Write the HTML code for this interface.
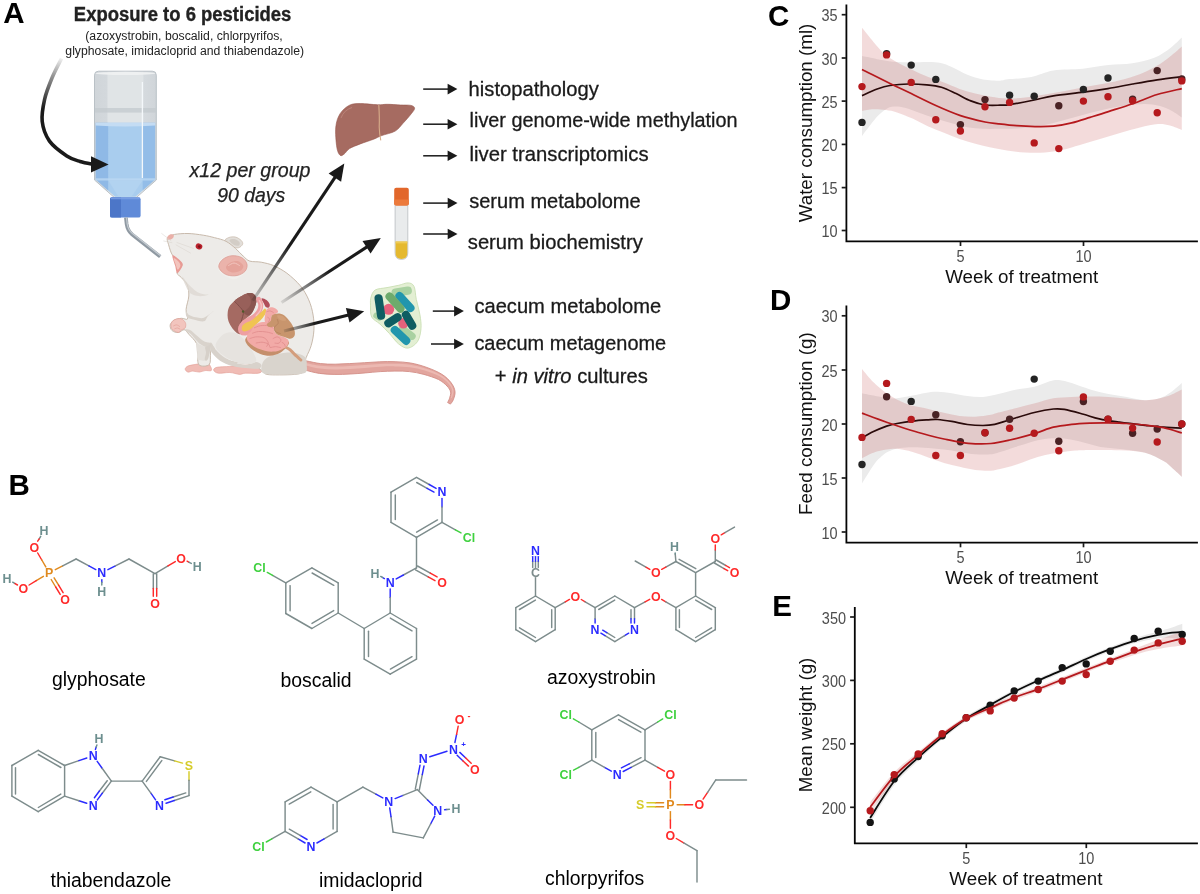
<!DOCTYPE html>
<html lang="en"><head><meta charset="utf-8"><title>Figure 1 - pesticide mixture exposure study design</title>
<style>
html,body{margin:0;padding:0;background:#fff;}
body{width:1200px;height:894px;overflow:hidden;font-family:"Liberation Sans",sans-serif;}
svg{display:block;}
text{font-family:"Liberation Sans",sans-serif;}
.tk{font-size:16px;fill:#4d4d4d;}
.ax{font-size:18.8px;fill:#111;}
.pl{font-size:29.5px;font-weight:bold;fill:#000;}
.lb{font-size:19.4px;fill:#000;}
.at{font-size:12.4px;font-weight:bold;text-anchor:middle;}
.rt{font-size:20.5px;fill:#1a1a1a;stroke:#1a1a1a;stroke-width:0.3px;}
</style></head><body>
<svg width="1200" height="894" viewBox="0 0 1200 894">
<rect width="1200" height="894" fill="#fff"/>
<!-- panel A -->
<defs>
<linearGradient id="gca" gradientUnits="userSpaceOnUse" x1="62" y1="58" x2="48" y2="110"><stop offset="0" stop-color="#1a1a1a" stop-opacity="0.05"/><stop offset="0.35" stop-color="#1a1a1a" stop-opacity="0.45"/><stop offset="1" stop-color="#1a1a1a"/></linearGradient>
<linearGradient id="ga1" gradientUnits="userSpaceOnUse" x1="251" y1="303" x2="290" y2="245"><stop offset="0" stop-color="#1a1a1a" stop-opacity="0.15"/><stop offset="1" stop-color="#1a1a1a"/></linearGradient>
<linearGradient id="ga2" gradientUnits="userSpaceOnUse" x1="281" y1="303" x2="330" y2="272"><stop offset="0" stop-color="#1a1a1a" stop-opacity="0.1"/><stop offset="1" stop-color="#1a1a1a"/></linearGradient>
<linearGradient id="ga3" gradientUnits="userSpaceOnUse" x1="283" y1="331" x2="315" y2="324"><stop offset="0" stop-color="#1a1a1a" stop-opacity="0.1"/><stop offset="1" stop-color="#1a1a1a"/></linearGradient>
<linearGradient id="gwat" x1="0" x2="1" y1="0" y2="0"><stop offset="0" stop-color="#8fb9e6"/><stop offset="0.2" stop-color="#8fb9e6"/><stop offset="0.22" stop-color="#a9cdee"/><stop offset="0.78" stop-color="#a9cdee"/><stop offset="0.8" stop-color="#93bde8"/><stop offset="1" stop-color="#93bde8"/></linearGradient>
<linearGradient id="ggl" x1="0" x2="1" y1="0" y2="0"><stop offset="0" stop-color="#d0d5d9"/><stop offset="0.2" stop-color="#d3d8dc"/><stop offset="0.22" stop-color="#e0e4e6"/><stop offset="0.78" stop-color="#e0e4e6"/><stop offset="0.8" stop-color="#d5dade"/><stop offset="1" stop-color="#d0d5d9"/></linearGradient>
</defs>
<text x="182.6" y="21.4" text-anchor="middle" font-size="19.5" font-weight="bold" fill="#222" stroke="#222" stroke-width="0.35" textLength="217.5" lengthAdjust="spacingAndGlyphs">Exposure to 6 pesticides</text>
<text x="184" y="40" text-anchor="middle" font-size="12" fill="#222" textLength="197.5" lengthAdjust="spacingAndGlyphs">(azoxystrobin, boscalid, chlorpyrifos,</text>
<text x="184.7" y="54.8" text-anchor="middle" font-size="12" fill="#222" textLength="238.7" lengthAdjust="spacingAndGlyphs">glyphosate, imidacloprid and thiabendazole)</text>
<text x="3.3" y="23.3" class="pl">A</text>
<text x="250" y="176.5" text-anchor="middle" font-size="20" font-style="italic" fill="#222" stroke="#222" stroke-width="0.25" textLength="121" lengthAdjust="spacingAndGlyphs">x12 per group</text>
<text x="251.3" y="201.6" text-anchor="middle" font-size="20" font-style="italic" fill="#222" stroke="#222" stroke-width="0.25" textLength="68" lengthAdjust="spacingAndGlyphs">90 days</text>
<g>
<path d="M98.5,71.2 H152.3 Q156.3,71.2 156.3,75.2 V180 L136,197.8 H114.6 L94.5,180 V75.2 Q94.5,71.2 98.5,71.2 Z" fill="url(#ggl)" stroke="#b4bcc2" stroke-width="0.9"/>
<ellipse cx="125.4" cy="73.4" rx="30" ry="1.6" fill="#eef0f1"/>
<rect x="95" y="108" width="60.8" height="4.6" fill="#c3c9ce" opacity="0.75"/>
<path d="M95.6,122.8 H155.2 V179.6 L135.5,196.8 H115.1 L95.6,179.6 Z" fill="url(#gwat)"/>
<path d="M95.6,122.8 H155.2 V125.4 Q125,127.6 95.6,125.4 Z" fill="#c4dcf3"/>
<path d="M95.6,178.2 H155.2 V180.6 H95.6 Z" fill="#bcd8f2" opacity="0.8"/>
<path d="M108.3,180.5 L118.5,196.8 H131.5 L142.5,180.5 Z" fill="#b4d3f0" opacity="0.85"/>
<path d="M142.4,82 V178" stroke="#f4f8fb" stroke-width="1.3" fill="none"/>
<path d="M110,199.2 Q110,197.2 112,197.2 H138.6 Q140.6,197.2 140.6,199.2 V215.4 Q140.6,217.6 138.4,217.6 H112.2 Q110,217.6 110,215.4 Z" fill="#5f8ad8"/>
<path d="M110,199.2 Q110,197.2 112,197.2 H121 V217.6 H112.2 Q110,217.6 110,215.4 Z" fill="#4c76c8"/>
<path d="M111,197.3 H139.6 V199.3 H111 Z" fill="#7ea3e6" opacity="0.8"/>
<path d="M125.9,217.6 L126.6,224 Q127.6,230.6 132,234.4 L160.2,256.6" fill="none" stroke="#8f99a2" stroke-width="3.7"/>
<path d="M126.5,217.6 L127.2,224 Q128.2,230 132.5,233.6 L160.6,255.8" fill="none" stroke="#c2c9cf" stroke-width="1.3"/>
</g>
<path d="M61.5,58.5 C59.9,61.8 54.8,71.2 52.0,78.0 C49.2,84.8 46.2,92.1 44.6,99.3 C43.0,106.5 41.4,114.4 42.2,121.4 C43.0,128.4 45.4,135.3 49.5,141.1 C53.6,146.8 61.7,152.5 66.8,155.9 C71.9,159.3 75.6,160.1 80.0,161.5 C84.4,162.9 90.8,163.8 93.0,164.2" fill="none" stroke="url(#gca)" stroke-width="3.6"/>
<path d="M108.6,164.5 L91,156.2 L91,172.6 Z" fill="#1a1a1a"/>
<path d="M298.9,368.4 C299.9,368.6 301.4,369.2 304.8,370.0 C308.2,370.9 314.3,372.6 319.4,373.4 C324.4,374.1 329.8,374.3 334.9,374.4 C340.1,374.6 345.2,374.3 350.3,374.0 C355.3,373.8 360.4,373.3 365.4,372.9 C370.4,372.5 375.3,371.9 380.2,371.6 C385.2,371.3 390.0,371.1 394.9,371.1 C399.8,371.1 404.6,371.0 409.4,371.6 C414.2,372.1 419.0,373.1 423.9,374.4 C428.7,375.8 434.6,377.6 438.5,379.5 C442.3,381.5 445.0,383.9 447.0,386.0 C449.0,388.1 450.2,390.0 450.6,392.1 C451.0,394.3 449.9,396.9 449.4,398.7 C448.9,400.4 447.9,401.9 447.6,402.5 L450.4,404.1 C450.9,403.4 452.4,402.0 453.2,399.9 C454.0,397.8 455.4,394.3 455.0,391.5 C454.7,388.6 453.2,385.5 451.0,382.6 C448.7,379.7 445.7,376.6 441.5,374.1 C437.4,371.5 431.3,369.0 426.1,367.2 C421.0,365.3 415.8,364.0 410.6,363.0 C405.4,362.1 400.2,361.9 395.1,361.7 C390.0,361.5 384.8,361.6 379.8,361.8 C374.7,362.0 369.6,362.4 364.6,362.7 C359.6,363.0 354.7,363.3 349.7,363.6 C344.8,363.8 339.9,364.1 335.1,364.2 C330.2,364.2 325.3,364.2 320.6,363.6 C315.9,363.1 310.1,361.6 306.8,361.0 C303.6,360.3 302.1,359.9 301.1,359.6 Z" fill="#e2a59e" stroke="#d28d86" stroke-width="0.9"/>
<path d="M305.5,365.5 C307.9,366.0 314.9,367.9 319.8,368.6 C324.7,369.2 329.9,369.4 335.0,369.4 C340.0,369.5 345.1,369.2 350.1,369.0 C355.1,368.7 360.1,368.3 365.1,367.9 C370.1,367.6 375.1,367.0 380.1,366.8 C385.0,366.5 390.0,366.3 395.0,366.4 C399.9,366.5 404.9,366.5 409.8,367.2 C414.8,367.9 419.7,369.0 424.7,370.5 C429.6,372.0 435.6,374.1 439.6,376.3 C443.5,378.4 446.3,381.1 448.4,383.5 C450.5,385.9 451.8,388.2 452.2,390.6 C452.6,393.0 451.0,396.7 450.8,397.9 L451.8,398.1 C452.1,396.8 453.8,393.0 453.4,390.4 C453.0,387.8 451.7,385.1 449.6,382.5 C447.4,379.9 444.5,377.1 440.4,374.7 C436.4,372.4 430.4,370.1 425.3,368.5 C420.3,366.8 415.2,365.6 410.2,364.8 C405.1,364.0 400.1,363.9 395.0,363.8 C390.0,363.7 385.0,363.8 379.9,364.0 C374.9,364.2 369.9,364.7 364.9,365.1 C359.9,365.4 354.9,365.8 349.9,366.0 C344.9,366.3 340.0,366.6 335.0,366.6 C330.1,366.5 325.0,366.4 320.2,365.8 C315.4,365.2 308.4,363.4 306.1,362.9 Z" fill="#ecb9b2"/>
<path d="M224.5,241.3 C224.0,239.8 227.1,238.2 228.9,237.5 C230.7,236.8 233.5,236.6 235.6,237.1 C237.6,237.6 240.1,239.3 241.3,240.5 C242.4,241.7 243.1,243.1 242.6,244.3 C242.1,245.5 240.2,247.4 238.4,247.8 C236.6,248.1 234.1,247.7 231.7,246.6 C229.4,245.5 225.0,242.8 224.5,241.3Z" fill="#e2ded9" stroke="#c8baac" stroke-width="0.7"/>
<path d="M229.5,240.2 C229.6,239.2 233.0,238.7 234.6,239.0 C236.2,239.3 238.6,241.0 239.4,242.1 C240.1,243.1 239.9,245.0 239.0,245.5 C238.0,245.9 235.2,245.6 233.7,244.7 C232.1,243.8 229.3,241.1 229.5,240.2Z" fill="#d3cdc6"/>
<path d="M213.7,370.2 C213.4,369.2 214.2,368.0 216.9,367.3 C219.6,366.7 225.2,366.7 229.8,366.4 C234.5,366.0 240.6,365.3 245.1,365.2 C249.5,365.2 253.7,365.2 256.5,366.0 C259.3,366.8 261.5,369.0 261.8,370.2 C262.1,371.4 261.2,372.7 258.4,373.2 C255.6,373.7 248.2,373.0 245.1,373.2 C241.9,373.4 241.9,374.5 239.4,374.4 C236.8,374.2 233.3,372.7 229.8,372.5 C226.4,372.3 221.1,373.6 218.4,373.2 C215.7,372.9 213.9,371.2 213.7,370.2Z" fill="#f0bcb5" stroke="#e09a92" stroke-width="0.6"/>
<path d="M185.2,369.2 C185.2,368.2 186.0,366.9 188.0,366.0 C190.1,365.2 194.4,364.6 197.5,364.1 C200.7,363.6 204.9,362.6 207.0,363.0 C209.2,363.3 209.8,365.1 210.5,366.4 C211.2,367.7 212.1,369.9 211.2,370.6 C210.3,371.3 207.1,370.3 205.1,370.6 C203.2,370.8 201.5,372.0 199.4,372.1 C197.4,372.2 194.7,371.1 192.8,371.1 C190.9,371.1 189.3,372.4 188.0,372.1 C186.8,371.8 185.2,370.3 185.2,369.2Z" fill="#f0bcb5" stroke="#e09a92" stroke-width="0.6"/>
<path d="M167.5,237.5 C168.5,235.8 171.3,235.1 174.7,234.4 C178.1,233.8 183.3,233.4 188.0,233.5 C192.8,233.6 198.8,234.5 203.2,235.2 C207.7,235.9 210.8,236.7 214.6,237.7 C218.4,238.7 222.6,239.5 226.0,241.3 C229.5,243.1 232.7,246.0 235.6,248.5 C238.4,251.0 240.8,254.0 243.2,256.1 C245.5,258.2 246.8,260.1 249.8,261.1 C252.8,262.1 257.3,261.4 261.2,262.2 C265.2,263.0 269.3,263.8 273.6,265.6 C277.9,267.5 282.4,269.9 286.9,273.2 C291.3,276.6 296.5,281.2 300.2,285.6 C303.8,290.0 306.6,294.9 308.7,299.8 C310.9,304.8 312.3,310.0 313.1,315.1 C314.0,320.1 314.2,325.2 313.9,330.3 C313.6,335.3 312.5,341.0 311.2,345.5 C309.9,350.0 307.6,353.8 306.3,357.3 C304.9,360.7 303.9,363.9 303.2,366.4 C302.5,368.9 303.5,371.1 302.1,372.5 C300.6,373.8 298.3,374.0 294.5,374.4 C290.7,374.8 283.9,374.9 279.3,374.9 C274.7,374.9 269.7,375.0 266.9,374.4 C264.1,373.8 264.9,372.9 262.5,371.3 C260.2,369.7 258.1,366.6 252.7,364.9 C247.2,363.2 235.7,362.9 229.8,361.1 C224.0,359.3 220.3,356.5 217.5,354.0 C214.6,351.6 213.9,346.6 212.7,346.4 C211.6,346.3 211.0,350.1 210.5,353.1 C209.9,356.1 211.2,362.5 209.3,364.5 C207.4,366.5 201.0,366.8 199.0,364.9 C197.1,363.0 198.0,356.7 197.5,353.1 C197.1,349.5 197.8,346.3 196.4,343.2 C195.0,340.1 191.0,336.7 189.0,334.4 C186.9,332.2 186.0,330.0 184.2,329.7 C182.5,329.4 180.5,332.4 178.5,332.5 C176.5,332.7 173.4,331.9 172.1,330.6 C170.7,329.4 169.8,326.7 170.2,324.9 C170.5,323.2 172.5,321.1 174.3,320.0 C176.2,318.9 179.2,318.5 181.4,318.3 C183.6,318.1 186.9,320.3 187.6,318.9 C188.4,317.4 185.9,313.2 186.1,309.4 C186.3,305.6 188.6,300.1 188.8,296.0 C189.0,292.0 188.5,288.1 187.3,285.0 C186.0,281.9 183.1,279.7 181.4,277.6 C179.7,275.5 176.9,274.9 177.0,272.7 C177.1,270.4 182.6,266.9 181.9,264.1 C181.2,261.3 175.0,259.0 172.8,255.7 C170.6,252.5 169.5,247.8 168.6,244.7 C167.7,241.7 166.5,239.2 167.5,237.5Z" fill="#edebe8" stroke="#c8baac" stroke-width="1.0"/>
<path d="M263.3,373.3 C260.3,371.7 261.4,367.2 262.0,364.7 C262.6,362.1 264.1,359.8 266.7,358.0 C269.2,356.2 272.9,354.9 277.3,354.0 C281.8,353.1 288.8,352.2 293.3,352.7 C297.9,353.1 302.4,354.7 304.7,356.7 C306.9,358.7 306.8,361.9 306.7,364.7 C306.6,367.4 308.4,371.7 304.0,373.3 C299.6,375.0 286.8,374.5 280.0,374.5 C273.2,374.5 266.3,375.0 263.3,373.3Z" fill="#d9d4cd"/>
<path d="M211.3,342.7 C212.4,343.3 213.7,347.4 216.0,350.0 C218.3,352.6 221.8,355.8 225.3,358.0 C228.9,360.2 233.6,362.2 237.3,363.3 C241.1,364.4 244.9,364.9 248.0,364.7 C251.1,364.4 253.8,362.0 256.0,362.0 C258.2,362.0 260.9,363.6 261.3,364.7 C261.8,365.8 261.3,368.1 258.7,368.7 C256.0,369.2 249.8,368.4 245.3,368.0 C240.9,367.6 236.2,367.2 232.0,366.0 C227.8,364.8 223.3,362.9 220.0,360.7 C216.7,358.4 213.8,355.1 212.0,352.7 C210.2,350.2 209.4,347.7 209.3,346.0 C209.2,344.3 210.2,342.0 211.3,342.7Z" fill="#d8d2cb"/>
<path d="M216.0,343.3 C217.1,340.7 220.9,335.8 224.0,334.0 C227.1,332.2 231.1,331.6 234.7,332.7 C238.2,333.8 242.2,337.3 245.3,340.7 C248.4,344.0 251.6,349.2 253.3,352.7 C255.1,356.1 256.9,359.4 256.0,361.3 C255.1,363.2 251.1,363.8 248.0,364.0 C244.9,364.2 241.0,363.8 237.3,362.7 C233.7,361.6 229.3,359.4 226.0,357.3 C222.7,355.2 219.0,352.3 217.3,350.0 C215.7,347.7 214.9,346.0 216.0,343.3Z" fill="#e6e3df"/>
<path d="M196.3,342.7 C196.8,341.6 198.4,344.0 200.0,344.7 C201.6,345.3 204.2,346.8 206.0,346.7 C207.8,346.6 210.3,343.0 210.9,344.0 C211.5,345.0 210.2,350.0 209.6,352.7 C209.0,355.3 209.3,358.8 207.3,360.0 C205.4,361.2 199.7,361.0 198.0,359.6 C196.3,358.2 197.4,354.2 197.1,351.3 C196.8,348.5 195.8,343.8 196.3,342.7Z" fill="#e4e0db"/>
<path d="M205.3,346.7 C206.2,345.2 210.2,343.0 210.9,344.0 C211.6,345.0 210.2,350.0 209.6,352.7 C209.0,355.3 208.2,358.8 207.3,360.0 C206.5,361.2 204.9,360.8 204.7,359.6 C204.4,358.4 205.9,354.8 206.0,352.7 C206.1,350.5 204.5,348.1 205.3,346.7Z" fill="#d6d0c9"/>
<path d="M186.0,310.0 C186.3,309.7 187.0,313.4 188.7,314.7 C190.3,315.9 193.4,316.8 196.0,317.3 C198.6,317.8 201.1,318.7 204.0,317.7 C206.9,316.7 212.7,311.6 213.3,311.3 C214.0,311.0 209.6,314.3 208.0,316.0 C206.4,317.7 206.4,320.7 204.0,321.3 C201.6,321.9 196.2,320.4 193.3,319.6 C190.4,318.8 187.9,318.3 186.7,316.7 C185.4,315.1 185.7,310.3 186.0,310.0Z" fill="#d9d3cc"/>
<path d="M184.7,330.0 C184.8,330.7 188.7,332.2 190.7,334.0 C192.7,335.8 195.1,339.0 196.7,340.7 C198.2,342.3 198.4,343.0 200.0,344.0 C201.6,345.0 204.2,346.8 206.0,346.7 C207.8,346.6 211.0,344.2 210.7,343.3 C210.3,342.4 206.2,342.6 204.0,341.3 C201.8,340.1 199.7,337.9 197.3,336.0 C195.0,334.1 192.1,331.0 190.0,330.0 C187.9,329.0 184.6,329.3 184.7,330.0Z" fill="#d9d3cc"/>
<path d="M182.3,277.0 C182.3,275.9 185.5,281.2 188.0,283.7 C190.6,286.2 194.4,290.4 197.5,292.2 C200.7,294.0 204.5,294.4 207.0,294.5 C209.6,294.7 213.4,292.9 212.7,293.2 C212.1,293.4 206.4,295.7 203.2,296.0 C200.1,296.4 196.3,296.0 193.7,295.1 C191.2,294.1 189.9,293.4 188.0,290.3 C186.1,287.3 182.3,278.1 182.3,277.0Z" fill="#ddd8d2" opacity="0.8"/>
<path d="M170.9,324.9 C171.1,323.6 171.5,322.0 172.7,320.9 C173.8,319.9 176.3,318.9 178.0,318.7 C179.7,318.4 181.4,318.8 182.7,319.6 C183.9,320.4 185.2,321.9 185.6,323.3 C186.0,324.7 185.8,326.9 185.1,328.0 C184.4,329.1 182.4,329.3 181.3,330.0 C180.3,330.7 179.8,332.2 178.7,332.4 C177.6,332.6 175.8,331.7 174.7,331.1 C173.5,330.4 172.4,329.7 171.7,328.7 C171.1,327.6 170.8,326.2 170.9,324.9Z" fill="#f2c5be" stroke="#e09a92" stroke-width="0.6"/>
<path d="M173.3,326.0 C173.9,325.8 175.6,324.8 176.7,324.9 C177.8,325.0 179.4,326.4 180.0,326.7" fill="none" stroke="#e09a92" stroke-width="0.6"/>
<path d="M174.4,328.9 C174.9,328.8 176.6,327.9 177.6,328.0 C178.6,328.1 179.8,329.1 180.3,329.3" fill="none" stroke="#e09a92" stroke-width="0.6"/>
<path d="M172.4,255.4 C173.0,254.3 176.8,257.5 178.5,259.0 C180.2,260.4 182.4,262.3 182.7,264.1 C183.0,265.9 181.4,268.4 180.4,269.8 C179.5,271.3 177.9,273.5 177.0,272.9 C176.1,272.2 175.9,268.5 175.1,265.6 C174.3,262.7 171.9,256.5 172.4,255.4Z" fill="#e89a94"/>
<path d="M173.8,258.0 C174.2,257.5 177.4,260.2 178.5,261.4 C179.6,262.7 180.5,264.2 180.4,265.6 C180.3,267.0 178.5,269.9 177.8,269.8 C177.0,269.7 176.5,266.8 175.9,264.9 C175.2,262.9 173.3,258.6 173.8,258.0Z" fill="#f3c4bd"/>
<path d="M167.1,237.5 C167.3,236.6 168.9,234.8 170.0,234.4 C171.1,234.1 173.4,234.5 173.8,235.2 C174.2,235.9 173.3,237.9 172.4,238.6 C171.6,239.4 169.5,240.0 168.6,239.8 C167.7,239.6 166.9,238.4 167.1,237.5Z" fill="#eab0a8"/>
<path d="M171.3,240.9L161.4,233.3" stroke="#d8d2cc" stroke-width="0.5"/>
<path d="M172.4,242.8L163.3,240.9" stroke="#d8d2cc" stroke-width="0.5"/>
<path d="M176.6,242.4L193.7,248.5" stroke="#d8d2cc" stroke-width="0.5"/>
<path d="M175.7,244.7L190.9,253.3" stroke="#d8d2cc" stroke-width="0.5"/>
<ellipse cx="199.0" cy="246.4" rx="3.4" ry="2.9" fill="#b9222c" transform="rotate(20 199.0 246.4)"/>
<circle cx="199.3" cy="246.6" r="1.4" fill="#7e1019"/>
<path d="M217.7,265.6 C217.9,263.4 219.2,260.6 221.5,258.8 C223.8,257.0 227.9,255.4 231.4,255.0 C234.8,254.6 239.3,255.0 242.0,256.5 C244.8,258.0 247.2,261.2 247.9,263.7 C248.6,266.3 247.6,269.5 246.2,271.7 C244.8,273.9 241.4,275.8 239.4,277.0 C237.3,278.3 235.7,279.3 233.7,279.3 C231.6,279.3 229.3,278.2 227.0,277.0 C224.7,275.8 221.5,274.0 220.0,272.1 C218.4,270.2 217.4,267.8 217.7,265.6Z" fill="#f1efec"/>
<path d="M218.8,265.6 C219.1,263.7 220.8,260.8 223.0,259.2 C225.2,257.5 228.6,256.0 231.7,255.7 C234.9,255.5 239.1,256.1 241.6,257.5 C244.2,258.8 246.4,261.8 247.0,264.1 C247.5,266.4 246.7,269.4 245.1,271.3 C243.4,273.2 240.0,274.9 237.1,275.5 C234.2,276.1 230.2,275.9 227.6,275.1 C224.9,274.4 222.6,272.5 221.1,271.0 C219.6,269.4 218.5,267.6 218.8,265.6Z" fill="#ebb3ab" stroke="#d9958c" stroke-width="0.7"/>
<path d="M226.0,266.8 C226.5,265.3 228.8,263.2 230.8,262.2 C232.8,261.3 235.8,260.5 237.8,261.1 C239.9,261.6 242.6,264.1 243.2,265.6 C243.7,267.1 242.8,269.0 241.3,270.2 C239.7,271.3 236.2,272.3 234.0,272.5 C231.9,272.6 229.7,271.9 228.3,271.0 C227.0,270.0 225.6,268.2 226.0,266.8Z" fill="#e5a39a"/>
<path d="M228.3,265.6 C229.3,265.2 232.1,263.0 234.0,263.0 C235.9,263.0 238.8,265.2 239.7,265.6" fill="none" stroke="#f3c6bf" stroke-width="1"/>
<path d="M245.5,338.7 C244.7,340.2 245.7,342.2 246.8,344.0 C248.0,345.8 250.0,347.8 252.2,349.4 C254.4,351.0 257.3,352.8 260.3,353.9 C263.2,354.9 266.8,355.8 270.1,355.7 C273.4,355.5 277.2,354.3 279.9,353.0 C282.6,351.6 284.7,349.4 286.2,347.6 C287.7,345.8 289.5,343.7 288.9,342.2 C288.3,340.8 286.6,339.9 282.6,338.7 C278.6,337.5 269.9,335.7 264.7,335.1 C259.5,334.5 254.5,334.5 251.3,335.1 C248.1,335.7 246.2,337.2 245.5,338.7Z" fill="#c58f6c"/>
<path d="M284.8,346.7 C285.8,347.3 288.8,348.8 290.7,350.3 C292.5,351.8 294.3,354.1 296.0,355.7 C297.7,357.3 300.1,359.2 300.9,360.0" fill="none" stroke="#d39d7c" stroke-width="3" stroke-linecap="round"/>
<path d="M227.6,314.5 C227.7,312.2 227.8,309.6 228.9,307.4 C230.1,305.1 232.4,302.9 234.3,301.1 C236.2,299.3 238.5,297.9 240.6,296.6 C242.7,295.4 245.0,294.1 246.8,293.5 C248.6,292.9 249.9,292.8 251.3,293.1 C252.7,293.3 254.2,294.2 255.1,295.3 C255.9,296.4 256.4,298.1 256.5,299.8 C256.6,301.4 256.2,303.3 255.6,305.1 C255.0,307.0 254.1,309.2 253.1,310.9 C252.1,312.7 251.0,313.9 249.5,315.4 C248.1,316.9 245.8,318.5 244.3,319.9 C242.9,321.2 241.6,322.1 240.8,323.5 C239.9,324.8 239.3,326.2 239.2,327.9 C239.2,329.6 240.8,332.8 240.6,333.7 C240.3,334.7 239.1,334.4 237.7,333.5 C236.4,332.6 234.1,330.4 232.5,328.4 C231.0,326.3 229.3,323.5 228.5,321.2 C227.7,318.9 227.5,316.8 227.6,314.5Z" fill="#a56a62"/>
<path d="M234.8,301.1 C235.0,299.5 238.6,297.9 240.6,296.6 C242.6,295.4 245.2,293.4 246.8,293.7 C248.5,294.0 249.7,296.7 250.4,298.4 C251.2,300.2 251.9,302.4 251.3,304.2 C250.7,306.1 248.1,308.3 246.8,309.6 C245.5,310.9 244.7,312.4 243.4,311.8 C242.2,311.2 240.7,307.8 239.2,306.0 C237.8,304.2 234.5,302.7 234.8,301.1Z" fill="#98605a"/>
<path d="M246.8,293.5 C247.1,292.8 249.9,292.8 251.3,293.1 C252.7,293.3 254.2,294.2 255.1,295.3 C255.9,296.4 256.4,298.1 256.5,299.8 C256.6,301.4 256.2,303.3 255.6,305.1 C255.0,307.0 254.1,309.2 253.1,310.9 C252.1,312.7 250.8,314.8 249.5,315.4 C248.2,316.0 246.4,315.1 245.5,314.5 C244.6,313.9 243.7,313.0 244.2,311.8 C244.6,310.7 247.3,309.3 248.4,307.8 C249.6,306.3 250.6,304.6 250.9,302.9 C251.1,301.2 250.6,299.1 250.0,297.5 C249.3,296.0 246.6,294.2 246.8,293.5Z" fill="#8a5650"/>
<path d="M234.3,301.3 C235.1,302.1 237.7,304.5 239.2,306.3 C240.7,308.0 242.8,309.9 243.3,311.8 C243.7,313.8 242.7,316.1 242.2,318.1 C241.7,320.1 240.7,322.7 240.4,323.6" fill="none" stroke="#7c4a45" stroke-width="0.9"/>
<circle cx="243.1" cy="311.5" r="1.2" fill="#4f5a2a"/>
<path d="M261.6,298.4 C262.1,297.9 265.2,299.1 266.5,300.0 C267.9,301.0 269.3,303.0 269.7,304.2 C270.1,305.5 269.5,307.1 268.8,307.5 C268.2,308.0 266.7,307.8 265.8,307.0 C264.9,306.2 264.4,304.3 263.6,302.9 C262.9,301.5 261.1,298.9 261.6,298.4Z" fill="#b04c59"/>
<path d="M258.6,299.3 C259.0,300.1 260.5,302.4 260.7,304.2 C260.9,306.0 260.6,308.2 259.8,310.0 C259.0,311.9 257.5,313.8 255.8,315.4 C254.1,317.0 251.5,318.2 249.5,319.4 C247.5,320.7 245.2,321.7 243.7,323.0 C242.2,324.4 241.1,326.0 240.8,327.5 C240.4,329.0 240.6,331.1 241.5,332.0 C242.3,332.9 244.4,333.1 245.9,332.9 C247.5,332.6 249.4,331.4 250.9,330.6 C252.3,329.8 253.8,328.4 254.4,327.9" fill="none" stroke="#ee9fa2" stroke-width="5" stroke-linecap="round"/>
<path d="M259.4,300.7 C259.7,301.4 261.2,303.5 261.3,305.1 C261.5,306.8 261.1,308.7 260.3,310.5 C259.4,312.3 256.9,315.0 256.2,315.9" fill="none" stroke="#f6c0c0" stroke-width="1.4" stroke-linecap="round"/>
<path d="M265.0,308.4 C265.7,308.5 266.7,310.3 266.3,311.8 C266.0,313.4 264.1,316.0 262.8,317.7 C261.4,319.5 259.8,321.0 258.3,322.4 C256.8,323.8 255.2,325.1 253.8,326.3 C252.4,327.5 251.5,328.7 250.0,329.5 C248.4,330.4 245.7,331.6 244.3,331.5 C243.0,331.5 242.0,330.3 241.7,329.2 C241.5,328.1 242.1,326.2 242.9,325.1 C243.7,323.9 245.2,323.2 246.7,322.4 C248.1,321.6 250.1,321.3 251.8,320.2 C253.6,319.1 255.5,317.2 257.2,315.8 C258.9,314.3 260.6,312.7 261.9,311.5 C263.2,310.3 264.2,308.4 265.0,308.4Z" fill="#f0c452"/>
<path d="M266.5,309.6 C267.3,308.4 268.6,307.6 270.1,307.4 C271.6,307.2 274.1,307.7 275.5,308.4 C276.8,309.2 278.3,310.8 278.1,311.8 C278.0,312.8 275.7,313.8 274.6,314.5 C273.4,315.3 271.8,315.3 271.4,316.3 C271.1,317.3 272.5,319.4 272.3,320.8 C272.1,322.1 271.1,323.7 270.1,324.4 C269.1,325.0 267.4,325.4 266.5,324.8 C265.6,324.2 264.9,322.5 264.7,320.8 C264.5,319.1 264.9,316.4 265.2,314.5 C265.5,312.7 265.7,310.8 266.5,309.6Z" fill="#f2aaa7"/>
<path d="M253.5,327.0 C254.7,325.7 255.7,324.3 257.6,323.5 C259.4,322.6 262.5,322.1 264.7,322.1 C267.0,322.1 269.5,322.6 271.0,323.5 C272.5,324.3 273.1,325.7 273.7,327.0 C274.3,328.4 273.8,330.2 274.6,331.5 C275.3,332.9 276.5,334.1 278.1,335.1 C279.8,336.1 282.7,336.4 284.4,337.3 C286.1,338.2 288.0,339.0 288.4,340.5 C288.9,341.9 288.2,344.3 287.1,345.8 C286.0,347.3 284.0,348.4 281.7,349.4 C279.5,350.4 276.5,351.4 273.7,351.6 C270.8,351.9 267.7,351.4 264.7,350.7 C261.7,350.1 258.3,348.9 255.8,347.6 C253.2,346.3 251.0,344.6 249.5,343.1 C248.0,341.6 247.1,340.2 246.8,338.7 C246.5,337.2 247.1,335.4 247.7,334.2 C248.4,333.0 249.9,332.7 250.9,331.5 C251.8,330.3 252.4,328.4 253.5,327.0Z" fill="#f2aaa7"/>
<path d="M254.0,327.9 C255.0,327.6 257.9,326.1 260.3,325.7 C262.6,325.3 266.2,325.3 268.3,325.7 C270.4,326.1 272.0,327.6 272.8,327.9" fill="none" stroke="#e08b8b" stroke-width="0.8"/>
<path d="M252.2,333.3 C253.2,333.0 256.1,331.7 258.5,331.5 C260.8,331.3 264.1,331.6 266.5,332.0 C268.9,332.3 271.7,333.4 272.8,333.7" fill="none" stroke="#e08b8b" stroke-width="0.8"/>
<path d="M249.5,338.7 C250.6,338.4 253.5,337.1 255.8,336.9 C258.0,336.7 261.1,336.9 262.9,337.3 C264.7,337.8 265.9,339.2 266.5,339.6" fill="none" stroke="#e08b8b" stroke-width="0.8"/>
<path d="M255.8,343.1 C256.8,343.0 260.0,342.1 262.0,342.2 C264.1,342.4 267.0,343.1 268.3,344.0 C269.6,344.9 269.8,347.0 270.1,347.6" fill="none" stroke="#e08b8b" stroke-width="0.8"/>
<path d="M272.8,338.7 C273.5,338.4 275.9,336.7 277.2,336.9 C278.6,337.0 280.5,338.5 280.8,339.6 C281.1,340.6 280.1,342.5 279.0,343.1 C278.0,343.7 275.3,343.1 274.6,343.1" fill="none" stroke="#e08b8b" stroke-width="0.8"/>
<path d="M270.1,347.6 C271.0,347.5 273.7,346.7 275.5,346.7 C277.2,346.7 279.9,347.5 280.8,347.6" fill="none" stroke="#e08b8b" stroke-width="0.8"/>
<path d="M266.5,311.8 C267.1,311.7 268.9,310.8 270.1,310.9 C271.3,311.1 273.1,312.4 273.7,312.7" fill="none" stroke="#e08b8b" stroke-width="0.8"/>
<path d="M267.4,317.2 C267.8,317.5 269.5,318.1 269.6,319.0 C269.8,319.9 268.5,322.0 268.3,322.6" fill="none" stroke="#e08b8b" stroke-width="0.8"/>
<path d="M266.5,339.6 C266.8,340.2 268.3,341.9 268.3,343.1 C268.3,344.3 266.8,346.1 266.5,346.7" fill="none" stroke="#e08b8b" stroke-width="0.8"/>
<path d="M281.7,342.2 C282.2,342.5 283.8,343.3 284.4,344.0 C285.0,344.8 285.1,346.3 285.3,346.7" fill="none" stroke="#e08b8b" stroke-width="0.8"/>
<path d="M271.9,315.4 C273.1,314.2 276.1,313.4 278.1,313.4 C280.2,313.4 282.3,313.9 284.4,315.4 C286.5,316.9 289.0,320.2 290.7,322.6 C292.3,325.0 293.8,327.5 294.4,329.7 C295.0,332.0 295.2,334.5 294.4,336.0 C293.7,337.5 291.6,338.7 289.9,338.8 C288.3,339.0 286.4,337.7 284.4,337.1 C282.4,336.4 279.7,336.0 278.1,335.1 C276.5,334.2 275.5,332.9 274.7,331.5 C274.0,330.2 274.7,327.8 273.8,327.0 C273.0,326.3 270.6,327.5 269.4,327.0 C268.2,326.6 266.5,325.4 266.7,324.4 C266.9,323.3 269.9,322.3 270.8,320.8 C271.7,319.3 270.7,316.6 271.9,315.4Z" fill="#c8956d"/>
<path d="M277.2,319.0 C277.4,319.7 278.6,322.1 278.1,323.5 C277.7,324.8 275.0,325.7 274.6,327.0 C274.1,328.4 274.4,330.4 275.5,331.5 C276.5,332.6 279.9,333.4 280.8,333.7" fill="none" stroke="#b5825f" stroke-width="0.9"/>
<path d="M277.2,315.4 C277.8,314.9 281.1,315.1 282.6,315.9 C284.1,316.6 286.2,319.1 286.2,319.9 C286.2,320.7 283.8,320.9 282.6,320.8 C281.4,320.6 279.9,319.9 279.0,319.0 C278.1,318.1 276.6,315.9 277.2,315.4Z" fill="#d4a47e" opacity="0.7"/>
<path d="M252.7,300.7L336.0,175.9" stroke="url(#ga1)" stroke-width="3.1" fill="none"/><path d="M344.3,163.4L341.1,181.7L328.6,173.4Z" fill="#1a1a1a"/>
<path d="M281.5,302.5L368.2,246.1" stroke="url(#ga2)" stroke-width="3.1" fill="none"/><path d="M380.8,237.9L370.6,253.5L362.5,240.9Z" fill="#1a1a1a"/>
<path d="M284.0,331.0L349.6,314.8" stroke="url(#ga3)" stroke-width="3.1" fill="none"/><path d="M364.2,311.2L349.5,322.6L345.9,308.0Z" fill="#1a1a1a"/>
<path d="M340.1,155.3 C338.9,154.2 337.5,151.9 336.8,147.2 C336.1,142.5 335.2,132.7 335.8,127.1 C336.4,121.5 337.8,117.3 340.1,113.7 C342.4,110.1 346.1,106.9 349.5,105.2 C352.9,103.5 355.6,103.7 360.3,103.6 C365.0,103.5 373.2,104.7 377.7,104.8 C382.2,104.9 383.3,104.3 387.1,104.3 C390.9,104.3 396.5,104.8 400.5,105.0 C404.5,105.2 408.6,104.9 411.0,105.4 C413.4,106.0 414.6,106.9 414.6,108.3 C414.7,109.7 413.2,111.2 411.3,113.7 C409.4,116.2 405.9,120.2 403.2,123.1 C400.5,126.0 398.8,129.0 395.2,131.1 C391.6,133.2 385.3,134.2 381.7,135.6 C378.1,136.9 377.3,137.8 373.7,139.2 C370.1,140.6 364.3,142.3 360.3,143.9 C356.3,145.5 352.2,146.9 349.5,148.6 C346.8,150.3 345.8,152.9 344.2,154.0 C342.6,155.1 341.3,156.4 340.1,155.3Z" fill="#a66b61" stroke="#935248" stroke-width="0.6"/>
<path d="M378.8,105 Q379.6,118 379.2,127 Q379.4,134 380.8,140.3" fill="none" stroke="#d8ad8a" stroke-width="1.1"/>
<path d="M341,118 Q344,110 352,107.5" fill="none" stroke="#bb857b" stroke-width="0.9"/>
<path d="M395.1,203 H407.8 V253 Q407.8,259.4 401.45,259.4 Q395.1,259.4 395.1,253 Z" fill="#e9ebec" stroke="#b9bdc0" stroke-width="0.8"/>
<path d="M395.6,241.6 H407.3 V253 Q407.3,258.9 401.45,258.9 Q395.6,258.9 395.6,253 Z" fill="#e5b92f"/>
<path d="M395.6,241.6 H407.3 V243.4 H395.6 Z" fill="#efcb55"/>
<path d="M394.2,189.8 Q394.2,187.8 396.2,187.8 H406.8 Q408.8,187.8 408.8,189.8 V203.4 Q408.8,205.4 406.8,205.4 H396.2 Q394.2,205.4 394.2,203.4 Z" fill="#e2672b"/>
<path d="M394.2,199.5 H408.8 V203.4 Q408.8,205.4 406.8,205.4 H396.2 Q394.2,205.4 394.2,203.4 Z" fill="#ec7a3c"/>
<path d="M371.1,297.0 C371.9,294.5 372.6,291.6 375.2,290.0 C377.8,288.4 383.1,288.4 387.0,287.6 C390.9,286.8 395.2,286.1 398.7,285.3 C402.2,284.5 405.6,282.7 408.1,282.9 C410.7,283.1 412.6,283.6 414.0,286.4 C415.4,289.1 415.3,294.7 416.3,299.4 C417.3,304.1 419.1,309.7 419.9,314.6 C420.7,319.5 421.4,324.2 421.0,328.7 C420.6,333.2 419.6,338.4 417.5,341.6 C415.4,344.8 411.2,347.7 408.1,348.1 C405.0,348.5 401.8,346.4 398.7,344.0 C395.6,341.6 392.4,336.7 389.3,333.4 C386.2,330.1 382.8,326.7 379.9,324.0 C377.0,321.3 373.3,320.1 371.7,317.0 C370.1,313.9 370.6,308.5 370.5,305.2 C370.4,301.9 370.3,299.5 371.1,297.0Z" fill="#e3efd3" stroke="#c9dfb3" stroke-width="0.9"/>
<path d="M395.6,292.6L407.8,290.6" stroke="#a9d1a1" stroke-width="8.2" stroke-linecap="round"/>
<path d="M376.3,315.6L379.3,317.6" stroke="#a9d1a1" stroke-width="6.0" stroke-linecap="round"/>
<path d="M402.5,329.0L412.0,336.2" stroke="#a9d1a1" stroke-width="7.4" stroke-linecap="round"/>
<circle cx="388.7" cy="309.3" r="5.5" fill="#e4627c"/>
<circle cx="403.4" cy="323.2" r="5.2" fill="#e4627c"/>
<path d="M378.6,298.4L381.1,315.6" stroke="#0f5d62" stroke-width="8.2" stroke-linecap="round"/>
<path d="M405.9,314.8L412.2,325.6" stroke="#0f5d62" stroke-width="8.2" stroke-linecap="round"/>
<path d="M399.5,296.0L410.4,308.0" stroke="#2196ad" stroke-width="8.2" stroke-linecap="round"/>
<path d="M389.6,296.6L400.4,308.6" stroke="#6dab6c" stroke-width="8.2" stroke-linecap="round"/>
<path d="M388.4,323.2L397.6,317.2" stroke="#0f5d62" stroke-width="8.2" stroke-linecap="round"/>
<path d="M394.8,330.0L406.2,340.8" stroke="#2196ad" stroke-width="8.2" stroke-linecap="round"/>
<path d="M423.2,89.1H449.4" stroke="#1a1a1a" stroke-width="1.5"/><path d="M457.4,89.1L447.6,83.8L447.6,94.4Z" fill="#1a1a1a"/>
<path d="M423.2,124.2H449.4" stroke="#1a1a1a" stroke-width="1.5"/><path d="M457.4,124.2L447.6,118.9L447.6,129.5Z" fill="#1a1a1a"/>
<path d="M423.2,155.8H449.4" stroke="#1a1a1a" stroke-width="1.5"/><path d="M457.4,155.8L447.6,150.5L447.6,161.1Z" fill="#1a1a1a"/>
<path d="M423.2,203.1H449.5" stroke="#1a1a1a" stroke-width="1.5"/><path d="M457.5,203.1L447.7,197.8L447.7,208.4Z" fill="#1a1a1a"/>
<path d="M423.2,234.0H449.5" stroke="#1a1a1a" stroke-width="1.5"/><path d="M457.5,234.0L447.7,228.7L447.7,239.3Z" fill="#1a1a1a"/>
<path d="M432.8,311.1H455.9" stroke="#1a1a1a" stroke-width="1.5"/><path d="M463.9,311.1L454.1,305.8L454.1,316.4Z" fill="#1a1a1a"/>
<path d="M431.0,344.0H455.9" stroke="#1a1a1a" stroke-width="1.5"/><path d="M463.9,344.0L454.1,338.7L454.1,349.3Z" fill="#1a1a1a"/>
<text x="468.6" y="96.2" class="rt" textLength="130.2" lengthAdjust="spacingAndGlyphs">histopathology</text>
<text x="469.6" y="127.4" class="rt" textLength="268.0" lengthAdjust="spacingAndGlyphs">liver genome-wide methylation</text>
<text x="469.6" y="161.2" class="rt" textLength="179.0" lengthAdjust="spacingAndGlyphs">liver transcriptomics</text>
<text x="469.2" y="207.8" class="rt" textLength="171.5" lengthAdjust="spacingAndGlyphs">serum metabolome</text>
<text x="467.8" y="248.8" class="rt" textLength="175.0" lengthAdjust="spacingAndGlyphs">serum biochemistry</text>
<text x="474.4" y="313.4" class="rt" textLength="186.8" lengthAdjust="spacingAndGlyphs">caecum metabolome</text>
<text x="474.4" y="349.8" class="rt" textLength="191.8" lengthAdjust="spacingAndGlyphs">caecum metagenome</text>
<text x="494.8" y="382.6" class="rt" textLength="153" lengthAdjust="spacingAndGlyphs">+ <tspan font-style="italic">in vitro</tspan> cultures</text>
<!-- chem -->
<g fill="none" stroke-width="1.45" stroke-linecap="round">
<path d="M37.7,553.0L41.8,560.0" stroke="#ff2a2a"/><path d="M41.8,560.0L45.8,566.9" stroke="#e08a1e"/>
<path d="M43.4,576.3L36.3,580.6" stroke="#e08a1e"/><path d="M36.3,580.6L29.1,585.0" stroke="#ff2a2a"/>
<path d="M55.3,569.7L62.7,565.9" stroke="#e08a1e"/><path d="M62.7,565.9L76.1,559.0" stroke="#7d8c8c"/>
<path d="M76.1,559.0L88.9,565.9" stroke="#7d8c8c"/><path d="M88.9,565.9L95.8,569.6" stroke="#2b2bff"/>
<path d="M107.9,569.7L115.4,565.9" stroke="#2b2bff"/><path d="M115.4,565.9L129.0,559.0" stroke="#7d8c8c"/>
<path d="M129.0,559.0L155.0,573.7" stroke="#7d8c8c"/>
<path d="M155.0,573.7L168.0,565.9" stroke="#7d8c8c"/><path d="M168.0,565.9L175.3,561.6" stroke="#ff2a2a"/>
<path d="M51.2,579.5L55.7,587.0" stroke="#e08a1e"/><path d="M55.7,587.0L60.2,594.4" stroke="#ff2a2a"/>
<path d="M54.1,577.8L58.6,585.2" stroke="#e08a1e"/><path d="M58.6,585.2L63.1,592.7" stroke="#ff2a2a"/>
<path d="M153.3,573.7L153.3,588.4" stroke="#7d8c8c"/><path d="M153.3,588.4L153.3,596.2" stroke="#ff2a2a"/>
<path d="M156.7,573.7L156.7,588.4" stroke="#7d8c8c"/><path d="M156.7,588.4L156.7,596.2" stroke="#ff2a2a"/>
<path d="M40.7,536.3L39.2,538.9" stroke="#6d8f8f"/><path d="M39.2,538.9L37.7,541.2" stroke="#ff2a2a"/>
<path d="M12.7,582.2L15.1,583.6" stroke="#6d8f8f"/><path d="M15.1,583.6L17.5,585.0" stroke="#ff2a2a"/>
<path d="M101.8,579.6L101.8,582.2" stroke="#2b2bff"/><path d="M101.8,582.2L101.8,585.1" stroke="#6d8f8f"/>
<path d="M187.1,561.2L189.1,562.3" stroke="#ff2a2a"/><path d="M189.1,562.3L191.3,563.4" stroke="#6d8f8f"/>
</g>
<text x="44.0" y="535.1" class="at" fill="#6d8f8f">H</text>
<text x="34.3" y="551.6" class="at" fill="#ff2a2a">O</text>
<text x="49.2" y="577.2" class="at" fill="#e08a1e">P</text>
<text x="23.3" y="593.0" class="at" fill="#ff2a2a">O</text>
<text x="7.0" y="583.2" class="at" fill="#6d8f8f">H</text>
<text x="65.1" y="603.9" class="at" fill="#ff2a2a">O</text>
<text x="101.8" y="577.2" class="at" fill="#2b2bff">N</text>
<text x="101.8" y="596.2" class="at" fill="#6d8f8f">H</text>
<text x="155.0" y="607.5" class="at" fill="#ff2a2a">O</text>
<text x="181.1" y="562.6" class="at" fill="#ff2a2a">O</text>
<text x="197.2" y="571.0" class="at" fill="#6d8f8f">H</text>
<text x="52" y="685.7" class="lb">glyphosate</text>
<g fill="none" stroke-width="1.45" stroke-linecap="round">
<path d="M416.5,477.4L429.2,484.5" stroke="#7d8c8c"/><path d="M429.2,484.5L436.1,488.4" stroke="#2b2bff"/>
<path d="M416.7,482.5L427.1,488.3" stroke="#7d8c8c"/><path d="M427.1,488.3L434.0,492.1" stroke="#2b2bff"/>
<path d="M442.0,498.5L442.0,507.0" stroke="#2b2bff"/><path d="M442.0,507.0L442.0,522.3" stroke="#7d8c8c"/>
<path d="M442.0,522.3L416.5,537.3" stroke="#7d8c8c"/>
<path d="M437.5,519.9L416.6,532.2" stroke="#7d8c8c"/>
<path d="M416.5,537.3L391.0,522.3" stroke="#7d8c8c"/>
<path d="M391.0,522.3L391.0,492.2" stroke="#7d8c8c"/>
<path d="M395.3,519.6L395.3,494.9" stroke="#7d8c8c"/>
<path d="M391.0,492.2L416.5,477.4" stroke="#7d8c8c"/>
<path d="M442.0,522.3L455.4,529.8" stroke="#7d8c8c"/><path d="M455.4,529.8L461.0,532.9" stroke="#3fd13f"/>
<path d="M416.5,537.3L416.5,567.9" stroke="#7d8c8c"/>
<path d="M415.5,569.8L428.2,576.9" stroke="#7d8c8c"/><path d="M428.2,576.9L435.0,580.7" stroke="#ff2a2a"/>
<path d="M417.5,566.0L430.3,573.1" stroke="#7d8c8c"/><path d="M430.3,573.1L437.1,576.9" stroke="#ff2a2a"/>
<path d="M416.5,567.9L403.4,575.0" stroke="#7d8c8c"/><path d="M403.4,575.0L396.2,578.9" stroke="#2b2bff"/>
<path d="M384.4,578.6L382.6,577.5" stroke="#2b2bff"/><path d="M382.6,577.5L380.7,576.4" stroke="#6d8f8f"/>
<path d="M390.2,588.9L390.2,597.5" stroke="#2b2bff"/><path d="M390.2,597.5L390.2,613.0" stroke="#7d8c8c"/>
<path d="M390.2,613.0L416.5,628.5" stroke="#7d8c8c"/>
<path d="M390.3,618.1L412.0,630.9" stroke="#7d8c8c"/>
<path d="M416.5,628.5L416.5,659.1" stroke="#7d8c8c"/>
<path d="M416.5,659.1L390.2,674.2" stroke="#7d8c8c"/>
<path d="M412.0,656.7L390.4,669.1" stroke="#7d8c8c"/>
<path d="M390.2,674.2L364.2,659.1" stroke="#7d8c8c"/>
<path d="M364.2,659.1L364.2,628.5" stroke="#7d8c8c"/>
<path d="M368.5,656.4L368.5,631.2" stroke="#7d8c8c"/>
<path d="M364.2,628.5L390.2,613.0" stroke="#7d8c8c"/>
<path d="M364.2,628.5L338.2,613.0" stroke="#7d8c8c"/>
<path d="M338.2,613.0L338.2,582.9" stroke="#7d8c8c"/>
<path d="M338.2,582.9L311.9,567.9" stroke="#7d8c8c"/>
<path d="M333.8,585.3L312.1,573.0" stroke="#7d8c8c"/>
<path d="M311.9,567.9L285.8,582.9" stroke="#7d8c8c"/>
<path d="M285.8,582.9L285.8,613.5" stroke="#7d8c8c"/>
<path d="M290.1,585.6L290.1,610.8" stroke="#7d8c8c"/>
<path d="M285.8,613.5L311.9,628.5" stroke="#7d8c8c"/>
<path d="M311.9,628.5L338.2,613.0" stroke="#7d8c8c"/>
<path d="M312.0,623.4L333.7,610.6" stroke="#7d8c8c"/>
<path d="M285.8,582.9L272.6,575.4" stroke="#7d8c8c"/><path d="M272.6,575.4L267.3,572.4" stroke="#3fd13f"/>
</g>
<text x="442.0" y="496.1" class="at" fill="#2b2bff">N</text>
<text x="468.9" y="541.8" class="at" fill="#3fd13f">Cl</text>
<text x="442.0" y="586.6" class="at" fill="#ff2a2a">O</text>
<text x="390.2" y="586.6" class="at" fill="#2b2bff">N</text>
<text x="375.0" y="577.5" class="at" fill="#6d8f8f">H</text>
<text x="259.5" y="572.4" class="at" fill="#3fd13f">Cl</text>
<text x="280.5" y="687.2" class="lb">boscalid</text>
<g fill="none" stroke-width="1.45" stroke-linecap="round">
<path d="M535.5,596.0L555.2,607.6" stroke="#7d8c8c"/>
<path d="M555.2,607.6L555.2,629.7" stroke="#7d8c8c"/>
<path d="M551.7,609.8L551.7,627.5" stroke="#7d8c8c"/>
<path d="M555.2,629.7L535.5,641.6" stroke="#7d8c8c"/>
<path d="M535.5,641.6L515.8,629.7" stroke="#7d8c8c"/>
<path d="M535.5,637.5L519.5,627.8" stroke="#7d8c8c"/>
<path d="M515.8,629.7L515.8,607.6" stroke="#7d8c8c"/>
<path d="M515.8,607.6L535.5,596.0" stroke="#7d8c8c"/>
<path d="M519.4,609.5L535.4,600.1" stroke="#7d8c8c"/>
<path d="M535.5,596.0L535.5,577.6" stroke="#7d8c8c"/>
<path d="M535.5,567.6L535.5,561.3" stroke="#7d8c8c"/><path d="M535.5,561.3L535.5,556.6" stroke="#2b2bff"/>
<path d="M538.3,567.6L538.3,561.3" stroke="#7d8c8c"/><path d="M538.3,561.3L538.3,556.6" stroke="#2b2bff"/>
<path d="M532.7,567.6L532.7,561.3" stroke="#7d8c8c"/><path d="M532.7,561.3L532.7,556.6" stroke="#2b2bff"/>
<path d="M555.2,607.6L565.3,601.8" stroke="#7d8c8c"/><path d="M565.3,601.8L569.5,599.4" stroke="#ff2a2a"/>
<path d="M581.3,599.5L585.2,601.8" stroke="#ff2a2a"/><path d="M585.2,601.8L595.1,607.6" stroke="#7d8c8c"/>
<path d="M595.1,607.6L614.8,596.0" stroke="#7d8c8c"/>
<path d="M598.7,609.5L614.7,600.1" stroke="#7d8c8c"/>
<path d="M614.8,596.0L634.5,607.6" stroke="#7d8c8c"/>
<path d="M634.5,607.6L634.5,618.7" stroke="#7d8c8c"/><path d="M634.5,618.7L634.5,622.9" stroke="#2b2bff"/>
<path d="M631.0,609.8L631.0,618.7" stroke="#7d8c8c"/><path d="M631.0,618.7L631.0,622.9" stroke="#2b2bff"/>
<path d="M628.7,633.2L624.6,635.7" stroke="#2b2bff"/><path d="M624.6,635.7L614.8,641.6" stroke="#7d8c8c"/>
<path d="M614.8,641.6L605.0,635.7" stroke="#7d8c8c"/><path d="M605.0,635.7L600.9,633.2" stroke="#2b2bff"/>
<path d="M614.8,637.5L606.8,632.7" stroke="#7d8c8c"/><path d="M606.8,632.7L602.7,630.2" stroke="#2b2bff"/>
<path d="M595.1,622.9L595.1,618.7" stroke="#2b2bff"/><path d="M595.1,618.7L595.1,607.6" stroke="#7d8c8c"/>
<path d="M634.5,607.6L645.1,601.8" stroke="#7d8c8c"/><path d="M645.1,601.8L649.7,599.3" stroke="#ff2a2a"/>
<path d="M661.6,599.4L665.8,601.8" stroke="#ff2a2a"/><path d="M665.8,601.8L675.9,607.6" stroke="#7d8c8c"/>
<path d="M675.9,607.6L695.6,596.0" stroke="#7d8c8c"/>
<path d="M695.6,596.0L715.3,607.6" stroke="#7d8c8c"/>
<path d="M695.7,600.1L711.7,609.5" stroke="#7d8c8c"/>
<path d="M715.3,607.6L715.3,629.7" stroke="#7d8c8c"/>
<path d="M715.3,629.7L695.6,641.6" stroke="#7d8c8c"/>
<path d="M711.6,627.8L695.6,637.5" stroke="#7d8c8c"/>
<path d="M695.6,641.6L675.9,629.7" stroke="#7d8c8c"/>
<path d="M675.9,629.7L675.9,607.6" stroke="#7d8c8c"/>
<path d="M679.4,627.5L679.4,609.8" stroke="#7d8c8c"/>
<path d="M695.6,596.0L695.6,572.6" stroke="#7d8c8c"/>
<path d="M695.6,572.6L675.9,561.5" stroke="#7d8c8c"/>
<path d="M695.8,568.7L679.1,559.3" stroke="#7d8c8c"/>
<path d="M675.9,561.5L675.2,553.9" stroke="#7d8c8c"/><path d="M675.2,553.9L675.2,552.9" stroke="#6d8f8f"/>
<path d="M675.9,561.5L665.8,567.1" stroke="#7d8c8c"/><path d="M665.8,567.1L661.7,569.3" stroke="#ff2a2a"/>
<path d="M649.8,569.3L645.5,566.8" stroke="#ff2a2a"/><path d="M645.5,566.8L635.2,561.0" stroke="#7d8c8c"/>
<path d="M695.6,572.6L715.3,561.5" stroke="#7d8c8c"/>
<path d="M714.4,563.0L724.0,568.6" stroke="#7d8c8c"/><path d="M724.0,568.6L727.7,570.7" stroke="#ff2a2a"/>
<path d="M716.2,560.0L725.8,565.5" stroke="#7d8c8c"/><path d="M725.8,565.5L729.5,567.7" stroke="#ff2a2a"/>
<path d="M715.3,561.5L715.3,549.9" stroke="#7d8c8c"/><path d="M715.3,549.9L715.3,545.0" stroke="#ff2a2a"/>
<path d="M721.2,534.8L724.9,532.7" stroke="#ff2a2a"/><path d="M724.9,532.7L734.5,527.1" stroke="#7d8c8c"/>
</g>
<text x="535.5" y="577.1" class="at" fill="#7d8c8c">C</text>
<text x="535.5" y="554.5" class="at" fill="#2b2bff">N</text>
<text x="575.4" y="600.5" class="at" fill="#ff2a2a">O</text>
<text x="634.5" y="634.2" class="at" fill="#2b2bff">N</text>
<text x="595.1" y="634.2" class="at" fill="#2b2bff">N</text>
<text x="655.7" y="600.5" class="at" fill="#ff2a2a">O</text>
<text x="674.6" y="550.8" class="at" fill="#6d8f8f">H</text>
<text x="655.7" y="577.1" class="at" fill="#ff2a2a">O</text>
<text x="734.5" y="577.1" class="at" fill="#ff2a2a">O</text>
<text x="715.3" y="542.7" class="at" fill="#ff2a2a">O</text>
<text x="547" y="684.1" class="lb">azoxystrobin</text>
<g fill="none" stroke-width="1.45" stroke-linecap="round">
<path d="M38.2,750.3L64.6,765.5" stroke="#7d8c8c"/>
<path d="M38.3,754.5L60.9,767.5" stroke="#7d8c8c"/>
<path d="M64.6,765.5L64.6,796.1" stroke="#7d8c8c"/>
<path d="M64.6,796.1L38.2,811.7" stroke="#7d8c8c"/>
<path d="M60.8,794.1L38.3,807.5" stroke="#7d8c8c"/>
<path d="M38.2,811.7L11.9,796.1" stroke="#7d8c8c"/>
<path d="M11.9,796.1L11.9,765.5" stroke="#7d8c8c"/>
<path d="M15.5,793.9L15.5,767.7" stroke="#7d8c8c"/>
<path d="M11.9,765.5L38.2,750.3" stroke="#7d8c8c"/>
<path d="M64.6,765.5L78.9,760.6" stroke="#7d8c8c"/><path d="M78.9,760.6L86.8,758.0" stroke="#2b2bff"/>
<path d="M97.2,761.3L102.3,768.5" stroke="#2b2bff"/><path d="M102.3,768.5L111.4,781.1" stroke="#7d8c8c"/>
<path d="M111.4,781.1L102.3,793.2" stroke="#7d8c8c"/><path d="M102.3,793.2L97.3,799.9" stroke="#2b2bff"/>
<path d="M107.2,780.7L99.4,791.0" stroke="#7d8c8c"/><path d="M99.4,791.0L94.4,797.7" stroke="#2b2bff"/>
<path d="M86.7,803.2L78.9,800.7" stroke="#2b2bff"/><path d="M78.9,800.7L64.6,796.1" stroke="#7d8c8c"/>
<path d="M95.4,749.4L96.2,747.0" stroke="#2b2bff"/><path d="M96.2,747.0L96.9,744.9" stroke="#6d8f8f"/>
<path d="M111.4,781.1L142.2,781.1" stroke="#7d8c8c"/>
<path d="M142.2,781.1L160.2,756.7" stroke="#7d8c8c"/>
<path d="M146.4,781.4L161.8,760.6" stroke="#7d8c8c"/>
<path d="M160.2,756.7L174.6,760.9" stroke="#7d8c8c"/><path d="M174.6,760.9L182.5,763.1" stroke="#d6cc2a"/>
<path d="M189.0,771.8L189.0,780.3" stroke="#d6cc2a"/><path d="M189.0,780.3L189.0,795.6" stroke="#7d8c8c"/>
<path d="M189.0,795.6L174.3,800.5" stroke="#7d8c8c"/><path d="M174.3,800.5L166.1,803.2" stroke="#2b2bff"/>
<path d="M185.8,792.9L173.2,797.0" stroke="#7d8c8c"/><path d="M173.2,797.0L164.9,799.8" stroke="#2b2bff"/>
<path d="M155.6,799.8L150.9,793.2" stroke="#2b2bff"/><path d="M150.9,793.2L142.2,781.1" stroke="#7d8c8c"/>
</g>
<text x="93.2" y="760.2" class="at" fill="#2b2bff">N</text>
<text x="99.1" y="742.8" class="at" fill="#6d8f8f">H</text>
<text x="93.2" y="809.8" class="at" fill="#2b2bff">N</text>
<text x="189.0" y="769.5" class="at" fill="#d6cc2a">S</text>
<text x="159.6" y="809.8" class="at" fill="#2b2bff">N</text>
<text x="50.5" y="887" class="lb">thiabendazole</text>
<g fill="none" stroke-width="1.45" stroke-linecap="round">
<path d="M311.0,787.1L337.1,801.9" stroke="#7d8c8c"/>
<path d="M337.1,801.9L337.1,831.4" stroke="#7d8c8c"/>
<path d="M333.1,804.4L333.1,828.9" stroke="#7d8c8c"/>
<path d="M337.1,831.4L324.1,838.9" stroke="#7d8c8c"/><path d="M324.1,838.9L316.9,843.0" stroke="#2b2bff"/>
<path d="M305.1,843.0L298.1,838.9" stroke="#2b2bff"/><path d="M298.1,838.9L285.1,831.4" stroke="#7d8c8c"/>
<path d="M307.1,839.5L300.1,835.4" stroke="#2b2bff"/><path d="M300.1,835.4L289.3,829.2" stroke="#7d8c8c"/>
<path d="M285.1,831.4L285.1,801.9" stroke="#7d8c8c"/>
<path d="M285.1,801.9L311.0,787.1" stroke="#7d8c8c"/>
<path d="M289.2,804.1L310.8,791.8" stroke="#7d8c8c"/>
<path d="M285.1,831.4L271.8,838.9" stroke="#7d8c8c"/><path d="M271.8,838.9L266.3,842.0" stroke="#3fd13f"/>
<path d="M337.1,801.9L362.9,787.1" stroke="#7d8c8c"/>
<path d="M362.9,787.1L375.9,794.2" stroke="#7d8c8c"/><path d="M375.9,794.2L382.8,797.9" stroke="#2b2bff"/>
<path d="M395.1,798.6L403.1,795.4" stroke="#2b2bff"/><path d="M403.1,795.4L417.3,789.6" stroke="#7d8c8c"/>
<path d="M417.3,789.6L427.6,799.9" stroke="#7d8c8c"/><path d="M427.6,799.9L433.0,805.3" stroke="#2b2bff"/>
<path d="M444.6,809.7L446.9,809.5" stroke="#2b2bff"/><path d="M446.9,809.5L449.4,809.3" stroke="#6d8f8f"/>
<path d="M434.7,816.1L430.6,824.0" stroke="#2b2bff"/><path d="M430.6,824.0L423.3,837.9" stroke="#7d8c8c"/>
<path d="M423.3,837.9L393.1,832.1" stroke="#7d8c8c"/>
<path d="M393.1,832.1L391.0,816.7" stroke="#7d8c8c"/><path d="M391.0,816.7L389.7,807.9" stroke="#2b2bff"/>
<path d="M419.3,790.0L422.3,774.6" stroke="#7d8c8c"/><path d="M422.3,774.6L424.0,766.0" stroke="#2b2bff"/>
<path d="M415.3,789.2L418.3,773.9" stroke="#7d8c8c"/><path d="M418.3,773.9L420.0,765.2" stroke="#2b2bff"/>
<path d="M429.8,756.8L447.0,751.3" stroke="#2b2bff"/>
<path d="M454.9,742.5L456.6,734.4" stroke="#2b2bff"/><path d="M456.6,734.4L458.2,726.2" stroke="#ff2a2a"/>
<path d="M457.1,755.3L462.8,760.7" stroke="#2b2bff"/><path d="M462.8,760.7L468.5,766.1" stroke="#ff2a2a"/>
<path d="M459.8,752.4L465.5,757.8" stroke="#2b2bff"/><path d="M465.5,757.8L471.2,763.2" stroke="#ff2a2a"/>
</g>
<text x="311.0" y="850.9" class="at" fill="#2b2bff">N</text>
<text x="258.5" y="850.9" class="at" fill="#3fd13f">Cl</text>
<text x="388.8" y="805.7" class="at" fill="#2b2bff">N</text>
<text x="437.8" y="814.6" class="at" fill="#2b2bff">N</text>
<text x="456.0" y="813.4" class="at" fill="#6d8f8f">H</text>
<text x="423.3" y="763.4" class="at" fill="#2b2bff">N</text>
<text x="453.5" y="753.7" class="at" fill="#2b2bff">N</text>
<text x="459.6" y="724.0" class="at" fill="#ff2a2a">O</text>
<text x="474.8" y="773.8" class="at" fill="#ff2a2a">O</text>
<text x="463.5" y="747" font-size="8" font-weight="bold" fill="#2b2bff" text-anchor="middle">+</text>
<text x="469" y="718.5" font-size="9" font-weight="bold" fill="#ff2a2a" text-anchor="middle">-</text>
<text x="319" y="887" class="lb">imidacloprid</text>
<g fill="none" stroke-width="1.45" stroke-linecap="round">
<path d="M618.4,714.9L645.0,729.9" stroke="#7d8c8c"/>
<path d="M618.6,719.6L640.9,732.2" stroke="#7d8c8c"/>
<path d="M645.0,729.9L645.0,760.1" stroke="#7d8c8c"/>
<path d="M645.0,760.1L631.1,767.4" stroke="#7d8c8c"/><path d="M631.1,767.4L623.2,771.5" stroke="#2b2bff"/>
<path d="M641.0,757.7L629.3,763.8" stroke="#7d8c8c"/><path d="M629.3,763.8L621.4,767.9" stroke="#2b2bff"/>
<path d="M611.3,771.2L604.5,767.4" stroke="#2b2bff"/><path d="M604.5,767.4L591.8,760.1" stroke="#7d8c8c"/>
<path d="M591.8,760.1L591.8,729.9" stroke="#7d8c8c"/>
<path d="M595.8,757.6L595.8,732.4" stroke="#7d8c8c"/>
<path d="M591.8,729.9L618.4,714.9" stroke="#7d8c8c"/>
<path d="M645.0,729.9L657.7,722.0" stroke="#7d8c8c"/><path d="M657.7,722.0L662.7,718.9" stroke="#3fd13f"/>
<path d="M591.8,729.9L578.8,722.0" stroke="#7d8c8c"/><path d="M578.8,722.0L573.4,718.8" stroke="#3fd13f"/>
<path d="M591.8,760.1L578.8,767.4" stroke="#7d8c8c"/><path d="M578.8,767.4L573.6,770.2" stroke="#3fd13f"/>
<path d="M645.0,760.1L657.7,767.4" stroke="#7d8c8c"/><path d="M657.7,767.4L664.5,771.2" stroke="#ff2a2a"/>
<path d="M670.4,781.4L670.4,789.7" stroke="#ff2a2a"/><path d="M670.4,789.7L670.4,798.0" stroke="#e08a1e"/>
<path d="M663.6,802.8L655.3,802.8" stroke="#e08a1e"/><path d="M655.3,802.8L647.0,802.8" stroke="#d6cc2a"/>
<path d="M663.6,806.8L655.3,806.8" stroke="#e08a1e"/><path d="M655.3,806.8L647.0,806.8" stroke="#d6cc2a"/>
<path d="M677.2,804.8L684.9,804.8" stroke="#e08a1e"/><path d="M684.9,804.8L692.6,804.8" stroke="#ff2a2a"/>
<path d="M703.1,799.1L707.6,792.4" stroke="#ff2a2a"/><path d="M707.6,792.4L715.8,779.9" stroke="#7d8c8c"/>
<path d="M715.8,779.9L746.5,779.9" stroke="#7d8c8c"/>
<path d="M670.4,811.6L670.4,819.9" stroke="#e08a1e"/><path d="M670.4,819.9L670.4,828.2" stroke="#ff2a2a"/>
<path d="M676.3,838.5L683.7,842.9" stroke="#ff2a2a"/><path d="M683.7,842.9L697.0,850.7" stroke="#7d8c8c"/>
<path d="M697.0,850.7L697.0,882.1" stroke="#7d8c8c"/>
</g>
<text x="617.2" y="779.1" class="at" fill="#2b2bff">N</text>
<text x="670.4" y="718.7" class="at" fill="#3fd13f">Cl</text>
<text x="565.7" y="718.7" class="at" fill="#3fd13f">Cl</text>
<text x="565.7" y="779.1" class="at" fill="#3fd13f">Cl</text>
<text x="670.4" y="779.1" class="at" fill="#ff2a2a">O</text>
<text x="670.4" y="809.2" class="at" fill="#e08a1e">P</text>
<text x="640.2" y="809.2" class="at" fill="#d6cc2a">S</text>
<text x="699.4" y="809.2" class="at" fill="#ff2a2a">O</text>
<text x="670.4" y="839.5" class="at" fill="#ff2a2a">O</text>
<text x="545" y="885.3" class="lb">chlorpyrifos</text>
<text x="8.5" y="495.2" class="pl">B</text>
<!-- charts -->
<path d="M846.4,4.4 V241.3 H1197.9" fill="none" stroke="#050505" stroke-width="1.8" stroke-linejoin="miter"/>
<path d="M845.9,14.7 h-4.2" stroke="#1a1a1a" stroke-width="1.7"/>
<text transform="translate(837.6,21.2) scale(0.906,1)" text-anchor="end" class="tk">35</text>
<path d="M845.9,58.0 h-4.2" stroke="#1a1a1a" stroke-width="1.7"/>
<text transform="translate(837.6,64.5) scale(0.906,1)" text-anchor="end" class="tk">30</text>
<path d="M845.9,101.1 h-4.2" stroke="#1a1a1a" stroke-width="1.7"/>
<text transform="translate(837.6,107.6) scale(0.906,1)" text-anchor="end" class="tk">25</text>
<path d="M845.9,144.4 h-4.2" stroke="#1a1a1a" stroke-width="1.7"/>
<text transform="translate(837.6,150.9) scale(0.906,1)" text-anchor="end" class="tk">20</text>
<path d="M845.9,187.6 h-4.2" stroke="#1a1a1a" stroke-width="1.7"/>
<text transform="translate(837.6,194.1) scale(0.906,1)" text-anchor="end" class="tk">15</text>
<path d="M845.9,230.5 h-4.2" stroke="#1a1a1a" stroke-width="1.7"/>
<text transform="translate(837.6,237.0) scale(0.906,1)" text-anchor="end" class="tk">10</text>
<path d="M960.5,241.8 v4.2" stroke="#1a1a1a" stroke-width="1.7"/>
<text transform="translate(960.5,261.7) scale(0.906,1)" text-anchor="middle" class="tk">5</text>
<path d="M1083.5,241.8 v4.2" stroke="#1a1a1a" stroke-width="1.7"/>
<text transform="translate(1083.5,261.7) scale(0.906,1)" text-anchor="middle" class="tk">10</text>
<text x="1021.7" y="282.5" text-anchor="middle" class="ax">Week of treatment</text>
<text transform="translate(811.9,123.0) rotate(-90)" text-anchor="middle" class="ax">Water consumption (ml)</text>
<path d="M862.0,56.0 C863.9,56.4 870.3,57.6 873.5,58.2 C876.7,58.9 877.4,59.3 881.3,59.9 C885.2,60.5 891.8,61.6 897.0,62.0 C902.2,62.4 907.4,62.3 912.6,62.3 C917.8,62.3 923.6,61.9 928.3,62.0 C933.0,62.1 936.9,62.2 940.8,63.0 C944.7,63.8 947.4,65.0 951.8,67.0 C956.2,69.0 962.2,72.7 967.4,74.8 C972.6,76.9 977.6,78.5 983.0,79.5 C988.4,80.5 995.9,80.7 1000.0,80.7 C1004.1,80.7 1002.3,79.9 1007.5,79.3 C1012.7,78.7 1023.8,78.5 1031.4,77.0 C1039.1,75.5 1044.8,72.0 1053.4,70.6 C1062.0,69.2 1073.6,69.7 1082.8,68.8 C1092.0,67.9 1100.2,66.0 1108.4,65.1 C1116.7,64.2 1124.7,64.5 1132.3,63.3 C1139.9,62.1 1147.9,60.4 1154.3,57.8 C1160.7,55.2 1166.2,51.1 1170.8,47.7 C1175.4,44.3 1180.0,39.3 1181.8,37.6 L1181.8,117.5 C1180.2,116.4 1175.6,112.9 1172.0,111.0 C1168.4,109.1 1164.5,107.2 1160.0,106.0 C1155.5,104.8 1150.5,104.1 1145.0,104.0 C1139.5,103.9 1132.9,104.8 1126.8,105.5 C1120.7,106.2 1114.5,107.2 1108.4,108.5 C1102.3,109.8 1096.1,111.4 1090.0,113.0 C1083.9,114.6 1077.8,116.3 1071.7,118.0 C1065.6,119.7 1059.5,121.6 1053.4,123.0 C1047.3,124.4 1041.1,125.6 1035.0,126.5 C1028.9,127.4 1022.5,128.1 1016.7,128.5 C1010.9,128.9 1005.6,128.8 1000.0,128.8 C994.4,128.9 988.4,129.1 983.0,128.8 C977.6,128.5 972.6,128.1 967.4,127.2 C962.2,126.3 957.0,124.7 951.8,123.3 C946.6,121.9 941.2,120.3 936.0,118.6 C930.8,116.9 925.7,115.0 920.5,113.2 C915.3,111.4 909.2,108.8 904.8,107.7 C900.3,106.6 896.9,106.3 893.8,106.6 C890.7,106.8 888.6,107.7 886.0,109.2 C883.4,110.7 880.8,112.9 878.2,115.5 C875.6,118.1 873.1,121.5 870.4,124.9 C867.7,128.3 863.4,134.1 862.0,135.9 Z" fill="#ebebeb"/>
<path d="M862.0,27.8 C863.9,30.1 869.8,37.6 873.5,41.9 C877.2,46.2 880.5,50.3 884.4,53.7 C888.3,57.1 892.3,59.6 897.0,62.3 C901.7,65.0 907.4,67.6 912.6,70.1 C917.8,72.6 923.1,75.0 928.3,77.1 C933.5,79.2 938.7,80.6 943.9,82.6 C949.1,84.6 954.4,87.1 959.6,88.9 C964.8,90.7 970.1,92.3 975.3,93.6 C980.5,94.9 985.6,95.9 990.9,96.7 C996.2,97.5 1001.3,98.4 1007.0,98.5 C1012.7,98.6 1018.7,98.2 1025.0,97.5 C1031.3,96.8 1038.3,95.6 1045.0,94.5 C1051.7,93.4 1058.3,92.2 1065.0,91.0 C1071.7,89.8 1078.3,88.2 1085.0,87.0 C1091.7,85.8 1098.3,84.8 1105.0,83.5 C1111.7,82.2 1118.3,80.9 1125.0,79.0 C1131.7,77.1 1139.2,74.5 1145.0,72.0 C1150.8,69.5 1155.5,66.8 1160.0,64.0 C1164.5,61.2 1168.4,57.9 1172.0,55.0 C1175.6,52.1 1180.2,47.9 1181.8,46.5 L1181.8,130.0 C1179.8,129.2 1174.0,126.5 1170.0,125.5 C1166.0,124.5 1163.0,123.7 1158.0,124.0 C1153.0,124.3 1146.3,126.0 1140.0,127.5 C1133.7,129.0 1126.7,131.1 1120.0,133.0 C1113.3,134.9 1106.7,137.0 1100.0,139.0 C1093.3,141.0 1086.3,143.2 1080.0,145.0 C1073.7,146.8 1067.8,148.8 1062.0,150.0 C1056.2,151.2 1051.2,152.1 1045.0,152.5 C1038.8,152.9 1031.3,152.8 1025.0,152.5 C1018.7,152.2 1012.7,151.3 1007.0,150.5 C1001.3,149.7 996.2,148.7 990.9,147.6 C985.6,146.5 980.5,145.1 975.3,143.7 C970.1,142.3 964.8,140.8 959.6,139.0 C954.4,137.2 949.2,134.8 944.0,132.7 C938.8,130.6 933.5,128.8 928.3,126.5 C923.1,124.2 917.8,120.9 912.6,118.6 C907.4,116.2 901.4,113.8 897.0,112.4 C892.6,111.0 889.9,110.5 886.0,110.0 C882.1,109.5 877.5,109.1 873.5,109.2 C869.5,109.3 863.9,110.5 862.0,110.8 Z" fill="#b22222" fill-opacity="0.16"/>
<path d="M862.0,95.6 C864.5,94.5 872.5,90.7 877.2,89.0 C881.9,87.3 884.8,86.3 890.0,85.5 C895.2,84.7 902.3,84.1 908.4,84.0 C914.5,83.9 921.3,84.3 926.8,84.8 C932.3,85.3 936.6,85.7 941.5,87.2 C946.4,88.7 951.2,91.3 956.1,93.6 C961.0,95.9 966.0,99.0 970.8,100.9 C975.6,102.8 980.1,104.3 985.0,105.0 C989.9,105.7 995.9,105.3 1000.0,105.2 C1004.1,105.1 1004.0,105.5 1009.7,104.6 C1015.4,103.7 1027.0,101.5 1034.3,100.0 C1041.6,98.5 1045.2,97.1 1053.4,95.8 C1061.6,94.5 1074.4,93.3 1083.5,92.1 C1092.6,90.9 1099.7,89.9 1107.9,88.6 C1116.1,87.2 1124.5,85.5 1132.7,84.0 C1140.9,82.5 1149.0,81.0 1157.2,79.8 C1165.4,78.6 1177.7,77.2 1181.8,76.7" fill="none" stroke="#2a0a0a" stroke-width="1.7"/>
<circle cx="862.0" cy="122.4" r="3.7" fill="#242424"/>
<circle cx="886.6" cy="53.6" r="3.7" fill="#242424"/>
<circle cx="911.2" cy="65.1" r="3.7" fill="#242424"/>
<circle cx="935.8" cy="79.4" r="3.7" fill="#242424"/>
<circle cx="960.4" cy="124.6" r="3.7" fill="#4a2224"/>
<circle cx="985.0" cy="99.6" r="3.7" fill="#4a2224"/>
<circle cx="1009.6" cy="95.2" r="3.7" fill="#242424"/>
<circle cx="1034.2" cy="96.3" r="3.7" fill="#242424"/>
<circle cx="1058.8" cy="105.7" r="3.7" fill="#4a2224"/>
<circle cx="1083.4" cy="89.5" r="3.7" fill="#242424"/>
<circle cx="1108.0" cy="78.0" r="3.7" fill="#242424"/>
<circle cx="1132.6" cy="99.3" r="3.7" fill="#4a2224"/>
<circle cx="1157.2" cy="70.6" r="3.7" fill="#4a2224"/>
<circle cx="1181.8" cy="78.9" r="3.7" fill="#4a2224"/>
<path d="M862.0,69.5 C866.7,71.8 881.8,79.5 890.0,83.5 C898.2,87.5 903.6,89.9 911.2,93.6 C918.8,97.3 927.6,101.8 935.8,105.5 C944.0,109.2 952.3,112.8 960.5,115.6 C968.7,118.3 978.7,120.6 985.0,122.0 C991.3,123.4 993.0,123.2 998.3,123.8 C1003.6,124.4 1010.6,125.2 1016.7,125.7 C1022.8,126.2 1028.9,126.5 1035.0,126.6 C1041.1,126.7 1047.3,126.8 1053.4,126.2 C1059.5,125.6 1065.6,124.4 1071.7,122.9 C1077.8,121.4 1083.9,119.3 1090.0,117.4 C1096.1,115.5 1101.3,113.9 1108.4,111.6 C1115.5,109.3 1124.6,106.5 1132.7,103.7 C1140.8,100.9 1149.0,97.0 1157.2,94.5 C1165.4,92.0 1177.7,89.6 1181.8,88.6" fill="none" stroke="#b5191d" stroke-width="1.7"/>
<circle cx="862.0" cy="86.6" r="3.7" fill="#b5191d"/>
<circle cx="886.6" cy="54.9" r="3.7" fill="#b5191d"/>
<circle cx="911.2" cy="82.4" r="3.7" fill="#b5191d"/>
<circle cx="935.8" cy="119.8" r="3.7" fill="#b5191d"/>
<circle cx="960.4" cy="131.0" r="3.7" fill="#b5191d"/>
<circle cx="985.0" cy="106.8" r="3.7" fill="#b5191d"/>
<circle cx="1009.6" cy="102.4" r="3.7" fill="#b5191d"/>
<circle cx="1034.2" cy="142.9" r="3.7" fill="#b5191d"/>
<circle cx="1058.8" cy="148.6" r="3.7" fill="#b5191d"/>
<circle cx="1083.4" cy="101.1" r="3.7" fill="#b5191d"/>
<circle cx="1108.0" cy="96.7" r="3.7" fill="#b5191d"/>
<circle cx="1132.6" cy="100.7" r="3.7" fill="#b5191d"/>
<circle cx="1157.2" cy="112.7" r="3.7" fill="#b5191d"/>
<circle cx="1181.8" cy="80.9" r="3.7" fill="#b5191d"/>
<text x="768.1" y="25.8" class="pl">C</text>
<path d="M846.4,305.6 V542.6 H1197.9" fill="none" stroke="#050505" stroke-width="1.8" stroke-linejoin="miter"/>
<path d="M845.9,315.8 h-4.2" stroke="#1a1a1a" stroke-width="1.7"/>
<text transform="translate(837.6,322.3) scale(0.906,1)" text-anchor="end" class="tk">30</text>
<path d="M845.9,370.0 h-4.2" stroke="#1a1a1a" stroke-width="1.7"/>
<text transform="translate(837.6,376.5) scale(0.906,1)" text-anchor="end" class="tk">25</text>
<path d="M845.9,424.0 h-4.2" stroke="#1a1a1a" stroke-width="1.7"/>
<text transform="translate(837.6,430.5) scale(0.906,1)" text-anchor="end" class="tk">20</text>
<path d="M845.9,478.0 h-4.2" stroke="#1a1a1a" stroke-width="1.7"/>
<text transform="translate(837.6,484.5) scale(0.906,1)" text-anchor="end" class="tk">15</text>
<path d="M845.9,532.0 h-4.2" stroke="#1a1a1a" stroke-width="1.7"/>
<text transform="translate(837.6,538.5) scale(0.906,1)" text-anchor="end" class="tk">10</text>
<path d="M960.5,543.1 v4.2" stroke="#1a1a1a" stroke-width="1.7"/>
<text transform="translate(960.5,563.0) scale(0.906,1)" text-anchor="middle" class="tk">5</text>
<path d="M1083.5,543.1 v4.2" stroke="#1a1a1a" stroke-width="1.7"/>
<text transform="translate(1083.5,563.0) scale(0.906,1)" text-anchor="middle" class="tk">10</text>
<text x="1021.7" y="583.8" text-anchor="middle" class="ax">Week of treatment</text>
<text transform="translate(811.9,423.7) rotate(-90)" text-anchor="middle" class="ax">Feed consumption (g)</text>
<path d="M862.0,393.2 C863.9,393.6 869.4,394.8 873.5,395.6 C877.6,396.4 882.7,397.5 886.6,397.9 C890.5,398.3 892.7,398.6 897.0,398.2 C901.3,397.8 907.9,396.5 912.6,395.6 C917.3,394.7 921.0,393.5 925.2,392.9 C929.4,392.2 933.3,391.6 937.7,391.7 C942.1,391.8 946.8,392.5 951.8,393.2 C956.8,393.9 962.2,395.4 967.4,396.0 C972.6,396.6 977.9,397.2 983.0,396.9 C988.1,396.6 992.7,395.3 998.3,394.1 C1003.9,392.9 1010.7,390.7 1016.7,389.5 C1022.7,388.3 1028.8,388.2 1034.3,386.8 C1039.8,385.4 1045.6,382.4 1049.7,381.3 C1053.8,380.2 1055.2,379.7 1058.9,380.0 C1062.6,380.3 1066.5,381.5 1071.7,383.1 C1076.9,384.7 1084.0,387.7 1090.1,389.5 C1096.2,391.3 1102.3,392.9 1108.4,394.1 C1114.5,395.3 1120.7,395.9 1126.8,396.9 C1132.9,397.9 1139.6,400.0 1145.1,400.2 C1150.6,400.4 1155.5,399.6 1159.8,398.3 C1164.1,397.0 1167.1,394.8 1170.8,392.3 C1174.5,389.8 1180.0,384.6 1181.8,383.1 L1181.8,476.7 C1180.3,475.3 1175.8,471.0 1172.7,468.4 C1169.7,465.8 1168.1,463.7 1163.5,461.1 C1158.9,458.5 1152.3,454.8 1145.1,452.8 C1137.8,450.8 1127.4,450.0 1120.0,449.0 C1112.6,448.0 1106.4,448.0 1100.7,447.0 C1095.0,446.0 1090.6,444.2 1085.6,443.0 C1080.6,441.8 1075.4,440.3 1070.5,439.5 C1065.6,438.7 1061.4,438.2 1056.4,438.3 C1051.4,438.4 1046.3,438.6 1040.3,439.8 C1034.2,441.0 1026.8,443.5 1020.1,445.5 C1013.4,447.5 1004.9,450.5 1000.0,452.0 C995.1,453.5 995.0,453.9 990.9,454.3 C986.8,454.7 980.5,454.7 975.3,454.3 C970.1,453.9 964.8,452.7 959.6,451.9 C954.4,451.1 949.2,450.2 944.0,449.6 C938.8,449.0 933.5,448.4 928.3,448.0 C923.1,447.6 917.3,447.2 912.6,447.2 C907.9,447.2 903.9,447.3 900.0,448.0 C896.1,448.7 892.2,449.8 889.1,451.2 C886.0,452.6 883.9,454.2 881.3,456.6 C878.7,459.0 876.7,460.8 873.5,465.3 C870.3,469.8 863.9,480.5 862.0,483.5 Z" fill="#ebebeb"/>
<path d="M862.0,369.0 C863.9,371.2 869.4,378.3 873.5,382.3 C877.6,386.3 882.2,390.1 886.6,393.2 C891.0,396.3 895.8,398.9 900.1,401.0 C904.4,403.1 907.9,404.5 912.6,405.8 C917.3,407.1 923.1,407.7 928.3,408.9 C933.5,410.1 938.7,411.6 943.9,412.8 C949.1,414.0 954.4,415.2 959.6,415.9 C964.8,416.5 970.1,416.9 975.3,416.7 C980.5,416.5 987.1,415.5 990.9,414.8 C994.7,414.1 994.0,413.6 998.3,412.5 C1002.6,411.4 1010.6,409.4 1016.7,407.9 C1022.8,406.4 1028.9,404.9 1035.0,403.3 C1041.1,401.7 1047.3,399.4 1053.4,398.3 C1059.5,397.2 1065.6,397.2 1071.7,396.9 C1077.8,396.6 1083.9,396.5 1090.0,396.5 C1096.1,396.5 1102.3,396.5 1108.4,396.9 C1114.5,397.3 1120.7,398.1 1126.8,398.7 C1132.9,399.2 1139.6,400.3 1145.1,400.2 C1150.6,400.1 1155.5,399.2 1159.8,398.3 C1164.1,397.4 1167.1,396.5 1170.8,395.0 C1174.5,393.5 1180.0,390.4 1181.8,389.5 L1181.8,476.7 C1180.3,475.3 1175.8,471.0 1172.7,468.4 C1169.7,465.8 1168.1,463.7 1163.5,461.1 C1158.9,458.5 1152.3,454.6 1145.1,452.8 C1137.8,451.0 1129.1,450.8 1120.0,450.3 C1110.9,449.8 1098.0,449.9 1090.6,450.0 C1083.2,450.1 1080.5,450.2 1075.5,450.6 C1070.5,451.0 1065.4,451.7 1060.4,452.4 C1055.4,453.1 1050.3,453.7 1045.3,454.9 C1040.3,456.1 1035.2,457.7 1030.2,459.4 C1025.2,461.1 1020.1,463.4 1015.1,465.0 C1010.1,466.6 1004.0,468.1 1000.0,469.0 C996.0,469.9 995.1,470.5 991.0,470.7 C986.9,470.9 980.5,470.6 975.3,470.0 C970.1,469.4 964.8,468.0 959.6,466.8 C954.4,465.6 949.2,464.5 944.0,462.9 C938.8,461.3 933.5,459.2 928.3,457.4 C923.1,455.6 917.8,453.3 912.6,451.9 C907.4,450.5 901.3,449.2 897.0,448.8 C892.7,448.4 890.5,449.0 886.6,449.6 C882.7,450.2 877.6,451.3 873.5,452.7 C869.4,454.1 863.9,457.3 862.0,458.2 Z" fill="#b22222" fill-opacity="0.16"/>
<path d="M862.0,437.9 C863.9,436.8 869.4,433.6 873.5,431.6 C877.6,429.6 882.7,427.5 886.6,426.1 C890.5,424.8 892.7,424.3 897.0,423.5 C901.3,422.7 907.4,421.7 912.6,421.1 C917.8,420.5 924.1,420.1 928.3,419.8 C932.5,419.5 933.8,419.2 937.7,419.5 C941.6,419.8 946.8,420.6 951.8,421.4 C956.8,422.2 962.2,423.8 967.4,424.5 C972.6,425.2 978.5,425.5 983.0,425.5 C987.5,425.5 990.2,425.3 994.7,424.4 C999.2,423.4 1003.1,421.8 1009.7,419.8 C1016.3,417.8 1027.0,414.3 1034.3,412.5 C1041.6,410.7 1048.4,409.5 1053.4,409.0 C1058.4,408.5 1059.4,408.5 1064.4,409.4 C1069.4,410.3 1077.7,412.7 1083.5,414.3 C1089.3,415.9 1093.3,417.6 1099.3,418.9 C1105.3,420.2 1111.8,421.1 1119.4,422.2 C1127.0,423.3 1137.8,424.5 1145.1,425.3 C1152.4,426.1 1157.4,426.7 1163.5,427.2 C1169.6,427.7 1178.8,428.0 1181.8,428.1" fill="none" stroke="#2a0a0a" stroke-width="1.7"/>
<circle cx="862.0" cy="464.5" r="3.7" fill="#242424"/>
<circle cx="886.6" cy="396.7" r="3.7" fill="#4a2224"/>
<circle cx="911.2" cy="401.4" r="3.7" fill="#242424"/>
<circle cx="935.8" cy="414.8" r="3.7" fill="#4a2224"/>
<circle cx="960.4" cy="441.8" r="3.7" fill="#4a2224"/>
<circle cx="985.0" cy="432.8" r="3.7" fill="#4a2224"/>
<circle cx="1009.6" cy="419.3" r="3.7" fill="#4a2224"/>
<circle cx="1034.2" cy="379.1" r="3.7" fill="#242424"/>
<circle cx="1058.8" cy="441.3" r="3.7" fill="#4a2224"/>
<circle cx="1083.4" cy="401.5" r="3.7" fill="#4a2224"/>
<circle cx="1108.0" cy="419.3" r="3.7" fill="#4a2224"/>
<circle cx="1132.6" cy="433.2" r="3.7" fill="#4a2224"/>
<circle cx="1157.2" cy="429.0" r="3.7" fill="#4a2224"/>
<circle cx="1181.8" cy="424.0" r="3.7" fill="#4a2224"/>
<path d="M862.0,413.1 C863.9,413.8 869.4,416.0 873.5,417.5 C877.6,419.0 882.7,420.8 886.6,422.2 C890.5,423.6 892.7,424.4 897.0,425.8 C901.3,427.2 907.4,429.2 912.6,430.8 C917.8,432.4 923.1,433.8 928.3,435.2 C933.5,436.6 938.8,437.9 944.0,439.0 C949.2,440.1 954.4,441.3 959.6,442.1 C964.8,442.9 970.1,443.6 975.3,443.8 C980.5,444.0 985.3,444.1 991.0,443.5 C996.7,442.9 1002.5,441.6 1009.7,440.0 C1016.9,438.4 1027.0,435.7 1034.3,433.6 C1041.6,431.5 1047.2,428.7 1053.4,427.2 C1059.6,425.7 1065.6,425.1 1071.7,424.4 C1077.8,423.7 1084.0,423.4 1090.1,423.1 C1096.2,422.9 1102.3,422.8 1108.4,422.9 C1114.5,423.0 1120.7,423.1 1126.8,423.5 C1132.9,423.9 1139.0,424.3 1145.1,425.0 C1151.2,425.7 1157.4,426.4 1163.5,427.7 C1169.6,429.0 1178.8,432.1 1181.8,433.0" fill="none" stroke="#b5191d" stroke-width="1.7"/>
<circle cx="862.0" cy="437.4" r="3.7" fill="#b5191d"/>
<circle cx="886.6" cy="383.4" r="3.7" fill="#b5191d"/>
<circle cx="911.2" cy="419.4" r="3.7" fill="#b5191d"/>
<circle cx="935.8" cy="455.5" r="3.7" fill="#b5191d"/>
<circle cx="960.4" cy="455.5" r="3.7" fill="#b5191d"/>
<circle cx="985.0" cy="432.8" r="3.7" fill="#b5191d"/>
<circle cx="1009.6" cy="428.3" r="3.7" fill="#b5191d"/>
<circle cx="1034.2" cy="433.2" r="3.7" fill="#b5191d"/>
<circle cx="1058.8" cy="450.8" r="3.7" fill="#b5191d"/>
<circle cx="1083.4" cy="396.9" r="3.7" fill="#b5191d"/>
<circle cx="1108.0" cy="419.3" r="3.7" fill="#b5191d"/>
<circle cx="1132.6" cy="428.1" r="3.7" fill="#b5191d"/>
<circle cx="1157.2" cy="442.0" r="3.7" fill="#b5191d"/>
<circle cx="1181.8" cy="424.0" r="3.7" fill="#b5191d"/>
<text x="769.9" y="309.8" class="pl">D</text>
<path d="M854.8,606.9 V843.4 H1197.9" fill="none" stroke="#050505" stroke-width="1.8" stroke-linejoin="miter"/>
<path d="M854.3,617.0 h-4.2" stroke="#1a1a1a" stroke-width="1.7"/>
<text transform="translate(846.0,623.5) scale(0.906,1)" text-anchor="end" class="tk">350</text>
<path d="M854.3,680.4 h-4.2" stroke="#1a1a1a" stroke-width="1.7"/>
<text transform="translate(846.0,686.9) scale(0.906,1)" text-anchor="end" class="tk">300</text>
<path d="M854.3,743.8 h-4.2" stroke="#1a1a1a" stroke-width="1.7"/>
<text transform="translate(846.0,750.3) scale(0.906,1)" text-anchor="end" class="tk">250</text>
<path d="M854.3,807.3 h-4.2" stroke="#1a1a1a" stroke-width="1.7"/>
<text transform="translate(846.0,813.8) scale(0.906,1)" text-anchor="end" class="tk">200</text>
<path d="M966.3,843.9 v4.2" stroke="#1a1a1a" stroke-width="1.7"/>
<text transform="translate(966.3,863.8) scale(0.906,1)" text-anchor="middle" class="tk">5</text>
<path d="M1086.3,843.9 v4.2" stroke="#1a1a1a" stroke-width="1.7"/>
<text transform="translate(1086.3,863.8) scale(0.906,1)" text-anchor="middle" class="tk">10</text>
<text x="1025.9" y="884.5" text-anchor="middle" class="ax">Week of treatment</text>
<text transform="translate(811.9,725.0) rotate(-90)" text-anchor="middle" class="ax">Mean weight (g)</text>
<path d="M870.2,812.9 C874.2,807.0 886.2,787.0 894.2,777.3 C902.2,767.5 910.2,761.6 918.2,754.5 C926.2,747.4 934.3,741.0 942.3,734.6 C950.3,728.2 958.3,721.6 966.3,716.3 C974.3,711.0 982.3,707.1 990.3,702.6 C998.3,698.1 1006.3,693.6 1014.3,689.5 C1022.3,685.4 1030.2,681.8 1038.2,678.2 C1046.2,674.6 1054.2,671.4 1062.2,667.8 C1070.2,664.2 1078.2,660.2 1086.2,656.7 C1094.2,653.2 1102.2,650.0 1110.2,646.9 C1118.2,643.8 1126.2,640.9 1134.2,638.4 C1142.2,635.8 1151.8,633.4 1158.1,631.6 C1164.4,629.7 1168.1,628.8 1172.1,627.5 C1176.1,626.2 1180.6,624.4 1182.3,623.8 L1182.3,639.8 C1180.6,639.5 1176.1,638.2 1172.1,637.9 C1168.1,637.6 1164.4,637.4 1158.1,638.2 C1151.8,639.1 1142.2,641.0 1134.2,643.2 C1126.2,645.4 1118.2,648.5 1110.2,651.5 C1102.2,654.5 1094.2,657.8 1086.2,661.3 C1078.2,664.8 1070.2,668.8 1062.2,672.4 C1054.2,676.0 1046.2,679.2 1038.2,682.8 C1030.2,686.4 1022.3,690.0 1014.3,694.1 C1006.3,698.2 998.3,702.7 990.3,707.2 C982.3,711.7 974.3,715.6 966.3,720.9 C958.3,726.2 950.3,732.6 942.3,739.2 C934.3,745.8 926.2,753.0 918.2,760.7 C910.2,768.4 902.2,775.0 894.2,785.3 C886.2,795.7 874.2,816.6 870.2,822.9 Z" fill="#e9e9e9"/>
<path d="M870.2,802.2 C874.2,797.2 886.2,780.6 894.2,772.2 C902.2,763.9 910.2,758.5 918.2,751.9 C926.2,745.2 934.3,738.3 942.3,732.4 C950.3,726.5 958.3,720.8 966.3,716.3 C974.3,711.8 982.3,709.1 990.3,705.6 C998.3,702.1 1006.3,698.3 1014.3,695.2 C1022.3,692.1 1030.2,689.8 1038.2,686.8 C1046.2,683.8 1054.2,680.5 1062.2,677.3 C1070.2,674.1 1078.2,670.9 1086.2,667.8 C1094.2,664.7 1102.2,661.6 1110.2,658.5 C1118.2,655.3 1126.2,652.0 1134.2,648.9 C1142.2,645.8 1150.1,642.7 1158.1,639.8 C1166.1,636.9 1178.3,632.9 1182.3,631.5 L1182.3,645.5 C1178.3,646.1 1166.1,647.4 1158.1,649.0 C1150.1,650.5 1142.2,652.5 1134.2,654.9 C1126.2,657.3 1118.2,660.2 1110.2,663.1 C1102.2,666.0 1094.2,669.3 1086.2,672.4 C1078.2,675.5 1070.2,678.7 1062.2,681.9 C1054.2,685.1 1046.2,688.4 1038.2,691.4 C1030.2,694.4 1022.3,696.7 1014.3,699.8 C1006.3,702.9 998.3,706.7 990.3,710.2 C982.3,713.7 974.3,716.4 966.3,720.9 C958.3,725.4 950.3,730.9 942.3,737.0 C934.3,743.1 926.2,750.5 918.2,757.7 C910.2,764.9 902.2,771.1 894.2,780.2 C886.2,789.2 874.2,806.9 870.2,812.2 Z" fill="#b22222" fill-opacity="0.16"/>
<path d="M870.2,817.9 C874.2,811.8 886.2,791.3 894.2,781.3 C902.2,771.2 910.2,765.0 918.2,757.6 C926.2,750.2 934.3,743.4 942.3,736.9 C950.3,730.4 958.3,723.9 966.3,718.6 C974.3,713.3 982.3,709.4 990.3,704.9 C998.3,700.4 1006.3,695.9 1014.3,691.8 C1022.3,687.7 1030.2,684.1 1038.2,680.5 C1046.2,676.9 1054.2,673.7 1062.2,670.1 C1070.2,666.5 1078.2,662.5 1086.2,659.0 C1094.2,655.5 1102.2,652.2 1110.2,649.2 C1118.2,646.2 1126.2,643.2 1134.2,640.8 C1142.2,638.4 1151.8,636.2 1158.1,634.9 C1164.4,633.5 1168.1,633.2 1172.1,632.7 C1176.1,632.2 1180.6,631.9 1182.3,631.8" fill="none" stroke="#0a0a0a" stroke-width="1.8"/>
<circle cx="870.2" cy="822.4" r="3.7" fill="#141414"/><circle cx="894.2" cy="778.9" r="3.7" fill="#141414"/><circle cx="918.2" cy="756.6" r="3.7" fill="#141414"/><circle cx="942.2" cy="735.8" r="3.7" fill="#141414"/><circle cx="966.2" cy="717.7" r="3.7" fill="#141414"/><circle cx="990.2" cy="705.2" r="3.7" fill="#141414"/><circle cx="1014.2" cy="690.9" r="3.7" fill="#141414"/><circle cx="1038.2" cy="681.1" r="3.7" fill="#141414"/><circle cx="1062.2" cy="667.6" r="3.7" fill="#141414"/><circle cx="1086.2" cy="663.9" r="3.7" fill="#141414"/><circle cx="1110.2" cy="651.2" r="3.7" fill="#141414"/><circle cx="1134.2" cy="638.5" r="3.7" fill="#141414"/><circle cx="1158.2" cy="631.3" r="3.7" fill="#141414"/><circle cx="1182.2" cy="634.5" r="3.7" fill="#141414"/>
<path d="M870.2,807.2 C874.2,802.0 886.2,784.9 894.2,776.2 C902.2,767.5 910.2,761.7 918.2,754.8 C926.2,747.9 934.3,740.7 942.3,734.7 C950.3,728.7 958.3,723.1 966.3,718.6 C974.3,714.1 982.3,711.4 990.3,707.9 C998.3,704.4 1006.3,700.6 1014.3,697.5 C1022.3,694.4 1030.2,692.1 1038.2,689.1 C1046.2,686.1 1054.2,682.8 1062.2,679.6 C1070.2,676.4 1078.2,673.2 1086.2,670.1 C1094.2,667.0 1102.2,663.8 1110.2,660.8 C1118.2,657.8 1126.2,654.6 1134.2,651.9 C1142.2,649.2 1150.1,646.6 1158.1,644.4 C1166.1,642.2 1178.3,639.5 1182.3,638.5" fill="none" stroke="#b5191d" stroke-width="1.8"/>
<circle cx="870.2" cy="810.8" r="3.7" fill="#b5191d"/><circle cx="894.2" cy="774.6" r="3.7" fill="#b5191d"/><circle cx="918.2" cy="753.9" r="3.7" fill="#b5191d"/><circle cx="942.2" cy="733.7" r="3.7" fill="#b5191d"/><circle cx="966.2" cy="717.8" r="3.7" fill="#b5191d"/><circle cx="990.2" cy="710.9" r="3.7" fill="#b5191d"/><circle cx="1014.2" cy="698.1" r="3.7" fill="#b5191d"/><circle cx="1038.2" cy="689.5" r="3.7" fill="#b5191d"/><circle cx="1062.2" cy="681.1" r="3.7" fill="#b5191d"/><circle cx="1086.2" cy="674.6" r="3.7" fill="#b5191d"/><circle cx="1110.2" cy="661.2" r="3.7" fill="#b5191d"/><circle cx="1134.2" cy="650.1" r="3.7" fill="#b5191d"/><circle cx="1158.2" cy="642.9" r="3.7" fill="#b5191d"/><circle cx="1182.2" cy="641.2" r="3.7" fill="#b5191d"/>
<text x="772.2" y="615.8" class="pl">E</text>
</svg>
</body></html>
